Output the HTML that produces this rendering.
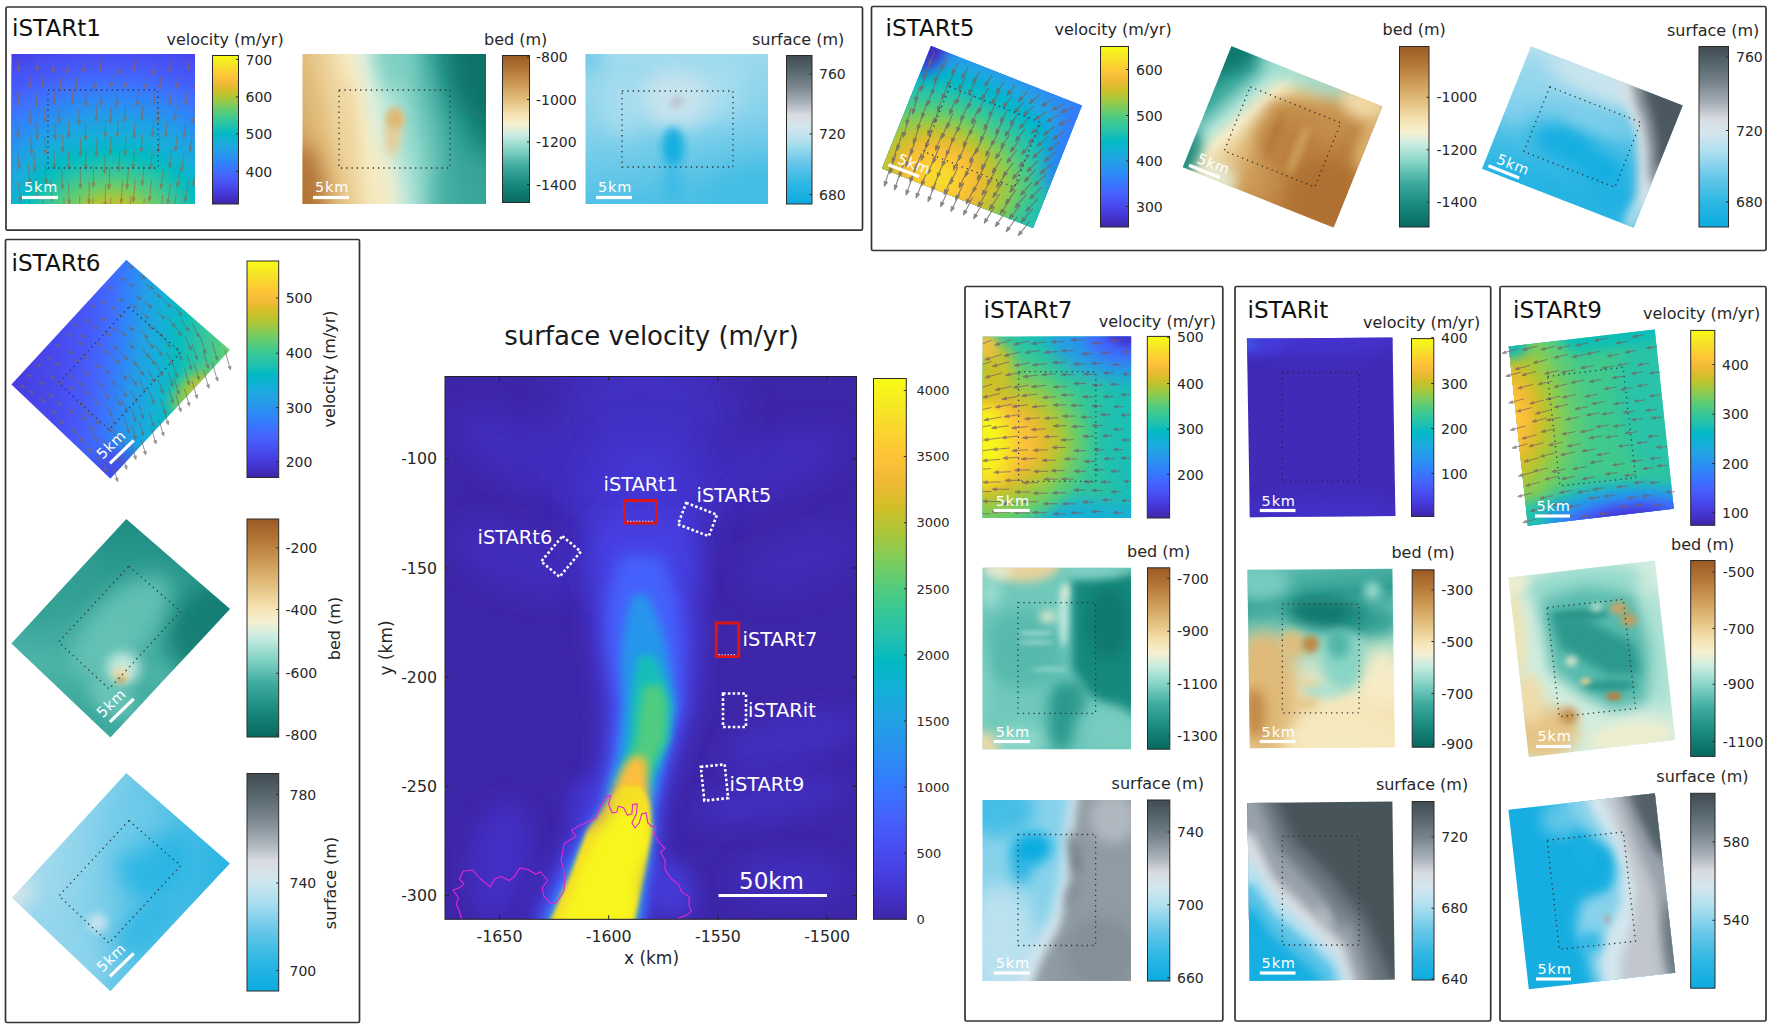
<!DOCTYPE html>
<html><head><meta charset="utf-8"><title>iSTAR survey grids</title>
<style>
html,body{margin:0;padding:0;background:#fff;}
svg{display:block;}
svg text{font-family:"DejaVu Sans","Liberation Sans",sans-serif;}
</style></head><body>
<svg width="1772" height="1029" viewBox="0 0 1772 1029">
<defs>
<linearGradient id="gP" x1="0" y1="1" x2="0" y2="0"><stop offset="0.000" stop-color="#3e26a8"/><stop offset="0.048" stop-color="#4332cb"/><stop offset="0.095" stop-color="#4741e5"/><stop offset="0.143" stop-color="#4852f4"/><stop offset="0.190" stop-color="#4563fd"/><stop offset="0.238" stop-color="#3875fe"/><stop offset="0.286" stop-color="#2e87f7"/><stop offset="0.333" stop-color="#2797eb"/><stop offset="0.381" stop-color="#20a5e3"/><stop offset="0.429" stop-color="#12b1d6"/><stop offset="0.476" stop-color="#02bac3"/><stop offset="0.524" stop-color="#24c1ae"/><stop offset="0.571" stop-color="#37c897"/><stop offset="0.619" stop-color="#57cc7a"/><stop offset="0.667" stop-color="#81cc59"/><stop offset="0.714" stop-color="#abc739"/><stop offset="0.762" stop-color="#d1bf27"/><stop offset="0.810" stop-color="#f0ba36"/><stop offset="0.857" stop-color="#fec338"/><stop offset="0.905" stop-color="#fad62d"/><stop offset="0.952" stop-color="#f5e924"/><stop offset="1.000" stop-color="#f9fb15"/><stop offset="1" stop-color="#f9fb15"/></linearGradient>
<linearGradient id="gB" x1="0" y1="1" x2="0" y2="0"><stop offset="0.000" stop-color="#08685f"/><stop offset="0.120" stop-color="#18897d"/><stop offset="0.250" stop-color="#40aca0"/><stop offset="0.360" stop-color="#84d4c6"/><stop offset="0.460" stop-color="#cbece2"/><stop offset="0.530" stop-color="#f6f0d0"/><stop offset="0.600" stop-color="#f5e1af"/><stop offset="0.700" stop-color="#e2be7d"/><stop offset="0.800" stop-color="#cd9b56"/><stop offset="0.900" stop-color="#b57837"/><stop offset="1.000" stop-color="#9c5a24"/></linearGradient>
<linearGradient id="gS" x1="0" y1="1" x2="0" y2="0"><stop offset="0.000" stop-color="#0cabe0"/><stop offset="0.140" stop-color="#2eb7e4"/><stop offset="0.280" stop-color="#68c7e8"/><stop offset="0.420" stop-color="#b0e0f0"/><stop offset="0.520" stop-color="#d4e6ee"/><stop offset="0.600" stop-color="#d8dbe0"/><stop offset="0.680" stop-color="#aab2ba"/><stop offset="0.800" stop-color="#76838c"/><stop offset="0.900" stop-color="#58666e"/><stop offset="1.000" stop-color="#404c52"/></linearGradient>
<clipPath id="c1"><rect x="0" y="0" width="183.5" height="150.0"/></clipPath>
<filter id="b7" x="-100%" y="-100%" width="300%" height="300%"><feGaussianBlur stdDeviation="7"/></filter>
<clipPath id="c2"><polygon points="11.5,54.0 195.0,54.0 195.0,204.0 11.5,204.0"/></clipPath>
<linearGradient id="t1b" gradientUnits="userSpaceOnUse" x1="0" y1="95" x2="183.5" y2="55"><stop offset="0" stop-color="#d5a966"/><stop offset="0.12" stop-color="#e2be7d"/><stop offset="0.24" stop-color="#efd6a0"/><stop offset="0.34" stop-color="#f6eac2"/><stop offset="0.42" stop-color="#ddeeda"/><stop offset="0.5" stop-color="#b6e5da"/><stop offset="0.6" stop-color="#8bd6c9"/><stop offset="0.7" stop-color="#5fbeb1"/><stop offset="0.8" stop-color="#37a498"/><stop offset="0.92" stop-color="#1b8c80"/><stop offset="1" stop-color="#137e73"/></linearGradient>
<clipPath id="c3"><rect x="0" y="0" width="183.5" height="150.0"/></clipPath>
<filter id="b10" x="-100%" y="-100%" width="300%" height="300%"><feGaussianBlur stdDeviation="10"/></filter>
<filter id="b8" x="-100%" y="-100%" width="300%" height="300%"><feGaussianBlur stdDeviation="8"/></filter>
<filter id="b12" x="-100%" y="-100%" width="300%" height="300%"><feGaussianBlur stdDeviation="12"/></filter>
<filter id="b4" x="-100%" y="-100%" width="300%" height="300%"><feGaussianBlur stdDeviation="4"/></filter>
<filter id="b3" x="-100%" y="-100%" width="300%" height="300%"><feGaussianBlur stdDeviation="3"/></filter>
<linearGradient id="t1s" x1="0" y1="0" x2="0.15" y2="1"><stop offset="0" stop-color="#a6dcef"/><stop offset="0.5" stop-color="#87d2eb"/><stop offset="1" stop-color="#4fc0e6"/></linearGradient>
<clipPath id="c4"><rect x="0" y="0" width="182.5" height="150.0"/></clipPath>
<filter id="b6" x="-100%" y="-100%" width="300%" height="300%"><feGaussianBlur stdDeviation="6"/></filter>
<clipPath id="c5"><rect x="0" y="0" width="162.3" height="131.9"/></clipPath>
<filter id="b9" x="-100%" y="-100%" width="300%" height="300%"><feGaussianBlur stdDeviation="9"/></filter>
<linearGradient id="t5b" gradientUnits="userSpaceOnUse" x1="0" y1="20" x2="162" y2="100"><stop offset="0" stop-color="#18897d"/><stop offset="0.12" stop-color="#46b0a3"/><stop offset="0.22" stop-color="#afe2d7"/><stop offset="0.3" stop-color="#f6ecc7"/><stop offset="0.4" stop-color="#e6c587"/><stop offset="0.55" stop-color="#cf9e5a"/><stop offset="0.8" stop-color="#bc8240"/><stop offset="1" stop-color="#b57837"/></linearGradient>
<clipPath id="c6"><rect x="0" y="0" width="162.5" height="130.5"/></clipPath>
<linearGradient id="t5s" x1="0" y1="0" x2="0.3" y2="1"><stop offset="0" stop-color="#bee2ef"/><stop offset="0.3" stop-color="#91d5ed"/><stop offset="0.6" stop-color="#4fc0e6"/><stop offset="1" stop-color="#29b5e3"/></linearGradient>
<clipPath id="c7"><rect x="0" y="0" width="162.8" height="131.8"/></clipPath>
<filter id="b5" x="-100%" y="-100%" width="300%" height="300%"><feGaussianBlur stdDeviation="5"/></filter>
<linearGradient id="t6v" gradientUnits="userSpaceOnUse" x1="0" y1="170" x2="171.5" y2="47.4"><stop offset="0" stop-color="#463cde"/><stop offset="0.2" stop-color="#484aee"/><stop offset="0.33" stop-color="#4758f8"/><stop offset="0.43" stop-color="#3f6eff"/><stop offset="0.51" stop-color="#2d88f6"/><stop offset="0.57" stop-color="#259ce7"/><stop offset="0.66" stop-color="#15afd9"/><stop offset="0.76" stop-color="#0abdbd"/><stop offset="0.86" stop-color="#2fc5a2"/><stop offset="0.95" stop-color="#50cc80"/><stop offset="1" stop-color="#68cd6b"/></linearGradient>
<clipPath id="c8"><polygon points="126.3,259.8 229.9,350.0 110.4,478.4 11.4,384.4"/></clipPath>
<linearGradient id="t6b" x1="0" y1="0" x2="0.6" y2="1"><stop offset="0" stop-color="#18897d"/><stop offset="0.5" stop-color="#37a498"/><stop offset="0.8" stop-color="#4cb3a7"/><stop offset="1" stop-color="#3da99d"/></linearGradient>
<clipPath id="c9"><polygon points="126.3,518.9 229.9,609.1 110.4,737.5 11.4,643.5"/></clipPath>
<filter id="b2" x="-100%" y="-100%" width="300%" height="300%"><feGaussianBlur stdDeviation="2"/></filter>
<linearGradient id="t6s" x1="0" y1="1" x2="1" y2="0.2"><stop offset="0" stop-color="#bee2ef"/><stop offset="0.4" stop-color="#87d2eb"/><stop offset="0.7" stop-color="#57c2e7"/><stop offset="1" stop-color="#29b5e3"/></linearGradient>
<clipPath id="c10"><polygon points="126.3,773.1 229.9,863.6 110.4,991.2 12.1,897.7"/></clipPath>
<clipPath id="c11"><rect x="0" y="0" width="411.5" height="542.8"/></clipPath>
<filter id="b15" x="-100%" y="-100%" width="300%" height="300%"><feGaussianBlur stdDeviation="15"/></filter>
<filter id="b25" x="-100%" y="-100%" width="300%" height="300%"><feGaussianBlur stdDeviation="25"/></filter>
<filter id="b20" x="-100%" y="-100%" width="300%" height="300%"><feGaussianBlur stdDeviation="20"/></filter>
<clipPath id="c12"><rect x="0" y="0" width="148.4" height="181.6"/></clipPath>
<clipPath id="c13"><polygon points="982.7,336.4 1131.1,336.4 1131.1,518.0 982.7,518.0"/></clipPath>
<clipPath id="c14"><rect x="0" y="0" width="148.4" height="181.4"/></clipPath>
<clipPath id="c15"><rect x="0" y="0" width="148.4" height="181.0"/></clipPath>
<clipPath id="c16"><rect x="0" y="0" width="145.6" height="178.6"/></clipPath>
<linearGradient id="itb" x1="0" y1="0" x2="0.1" y2="1"><stop offset="0" stop-color="#5fbeb1"/><stop offset="0.2" stop-color="#319f93"/><stop offset="0.4" stop-color="#84d4c6"/><stop offset="0.7" stop-color="#f6ecc7"/><stop offset="1" stop-color="#f5e1af"/></linearGradient>
<clipPath id="c17"><rect x="0" y="0" width="145.0" height="178.4"/></clipPath>
<clipPath id="c18"><rect x="0" y="0" width="145.0" height="178.0"/></clipPath>
<clipPath id="c19"><rect x="0" y="0" width="147.0" height="180.2"/></clipPath>
<clipPath id="c20"><rect x="0" y="0" width="147.5" height="180.7"/></clipPath>
<clipPath id="c21"><rect x="0" y="0" width="147.4" height="180.6"/></clipPath>
</defs>
<rect width="1772" height="1029" fill="#fff"/>
<rect x="6.0" y="7.0" width="856.5" height="223.2" fill="none" stroke="#333" stroke-width="1.7" rx="1.5"/>
<text x="12.0" y="35.5" font-size="23.1" fill="#111" text-anchor="start">iSTARt1</text>
<text x="166.5" y="45.0" font-size="16" fill="#272727" text-anchor="start">velocity (m/yr)</text>
<g transform="matrix(1.0000 0.0000 0.0000 1.0000 11.50 54.00)"><g clip-path="url(#c1)">
<rect x="-1" y="-1" width="185.5" height="152.0" fill="#473fe3"/>
<ellipse cx="100.9" cy="168.0" rx="238.6" ry="172.5" fill="#4755f6" opacity="1.00" filter="url(#b7)"/>
<ellipse cx="100.9" cy="168.0" rx="183.5" ry="150.0" fill="#3f6eff" opacity="1.00" filter="url(#b7)"/>
<ellipse cx="100.9" cy="168.0" rx="156.0" ry="132.0" fill="#2d88f6" opacity="1.00" filter="url(#b7)"/>
<ellipse cx="100.9" cy="168.0" rx="132.1" ry="114.0" fill="#249fe6" opacity="1.00" filter="url(#b7)"/>
<ellipse cx="100.9" cy="168.0" rx="113.8" ry="96.0" fill="#15afd9" opacity="1.00" filter="url(#b7)"/>
<ellipse cx="100.9" cy="168.0" rx="97.3" ry="78.0" fill="#04bbc2" opacity="1.00" filter="url(#b7)"/>
<ellipse cx="100.9" cy="168.0" rx="80.7" ry="61.5" fill="#2fc5a2" opacity="1.00" filter="url(#b7)"/>
<ellipse cx="100.9" cy="168.0" rx="62.4" ry="45.0" fill="#60cd72" opacity="1.00" filter="url(#b7)"/>
<ellipse cx="100.9" cy="168.0" rx="40.4" ry="30.0" fill="#b9c431" opacity="1.00" filter="url(#b7)"/>
</g></g>
<path d="M18.9 59.9L18.7 66.9M18.6 71.4L17.3 66.8L20.1 66.9ZM37.4 59.6L37.2 66.5M37.0 71.0L35.8 66.5L38.6 66.5ZM53.4 60.9L53.2 68.0M53.0 72.5L51.8 67.9L54.6 68.0ZM67.5 61.5L67.2 68.7M67.0 73.2L65.8 68.6L68.6 68.7ZM84.0 61.2L83.7 68.4M83.5 72.9L82.3 68.3L85.1 68.4ZM100.9 59.7L100.5 66.7M100.3 71.2L99.1 66.6L101.9 66.8ZM119.5 63.0L119.1 70.3M118.8 74.8L117.7 70.2L120.5 70.4ZM134.5 60.3L134.1 67.3M133.8 71.8L132.7 67.2L135.5 67.4ZM154.0 63.5L153.5 70.8M153.1 75.3L152.1 70.7L154.9 70.9ZM170.4 61.0L169.8 68.1M169.5 72.6L168.4 68.0L171.2 68.2ZM189.3 59.5L188.7 66.4M188.3 70.9L187.3 66.3L190.1 66.5ZM30.2 75.6L30.1 83.7M30.1 88.2L28.7 83.7L31.5 83.7ZM42.9 74.8L42.8 82.9M42.7 87.4L41.4 82.9L44.2 82.9ZM60.5 77.9L60.3 86.4M60.2 90.9L58.9 86.4L61.7 86.5ZM76.5 76.9L76.2 85.4M76.1 89.9L74.8 85.4L77.6 85.4ZM95.7 75.9L95.3 84.5M95.1 89.0L93.9 84.4L96.7 84.5ZM111.9 74.5L111.4 82.9M111.2 87.4L110.0 82.9L112.8 83.0ZM125.8 75.2L125.4 83.6M125.1 88.1L124.0 83.5L126.7 83.7ZM145.9 76.2L145.4 84.6M145.0 89.0L144.0 84.5L146.8 84.6ZM160.6 76.9L159.9 85.2M159.6 89.7L158.6 85.1L161.3 85.3ZM178.1 75.6L177.3 83.8M176.9 88.2L175.9 83.6L178.7 83.9ZM196.6 77.4L195.8 85.6M195.3 90.1L194.4 85.5L197.2 85.8ZM18.4 91.8L18.6 101.2M18.7 105.7L17.2 101.2L20.0 101.1ZM36.7 93.2L36.7 102.7M36.8 107.2L35.3 102.7L38.1 102.7ZM54.5 90.5L54.4 100.1M54.4 104.6L53.0 100.0L55.8 100.1ZM72.5 89.8L72.3 99.4M72.2 103.9L70.9 99.4L73.7 99.5ZM86.1 92.7L85.8 102.7M85.7 107.2L84.4 102.7L87.2 102.7ZM101.3 91.5L100.9 101.4M100.8 105.9L99.5 101.4L102.3 101.5ZM117.4 92.3L116.9 102.3M116.6 106.8L115.5 102.2L118.3 102.4ZM138.1 91.8L137.4 101.6M137.1 106.1L136.0 101.5L138.8 101.7ZM155.4 90.7L154.6 100.2M154.2 104.6L153.2 100.0L156.0 100.3ZM171.1 91.9L170.2 101.4M169.8 105.9L168.8 101.2L171.6 101.5ZM187.1 91.3L186.1 100.6M185.7 105.1L184.7 100.5L187.5 100.8ZM30.1 108.5L30.4 119.2M30.5 123.6L29.0 119.2L31.8 119.1ZM44.7 107.2L44.9 118.0M44.9 122.5L43.5 118.0L46.3 117.9ZM59.1 107.4L59.1 118.4M59.1 122.9L57.7 118.4L60.5 118.4ZM79.0 108.7L78.9 120.1M78.8 124.6L77.5 120.1L80.3 120.2ZM96.7 105.5L96.3 116.8M96.2 121.3L94.9 116.8L97.7 116.9ZM111.0 107.3L110.5 118.7M110.3 123.2L109.1 118.7L111.8 118.8ZM125.6 106.3L125.0 117.6M124.7 122.0L123.6 117.5L126.4 117.6ZM143.1 104.8L142.3 115.6M142.0 120.1L140.9 115.5L143.7 115.7ZM159.2 107.7L158.2 118.5M157.8 123.0L156.8 118.4L159.6 118.7ZM176.3 105.4L175.2 115.8M174.7 120.3L173.8 115.7L176.6 115.9ZM194.4 108.2L193.1 118.7M192.5 123.2L191.7 118.5L194.5 118.9ZM17.5 121.3L18.1 132.8M18.4 137.3L16.7 132.8L19.5 132.7ZM36.8 123.2L37.2 135.1M37.4 139.6L35.8 135.1L38.6 135.0ZM55.0 123.1L55.2 135.3M55.2 139.8L53.8 135.3L56.6 135.3ZM68.7 121.1L68.7 133.4M68.7 137.9L67.3 133.4L70.1 133.4ZM85.8 123.2L85.6 136.1M85.5 140.6L84.2 136.0L87.0 136.1ZM105.8 119.9L105.3 132.6M105.1 137.1L103.9 132.5L106.7 132.6ZM118.1 120.3L117.5 132.9M117.3 137.4L116.1 132.8L118.9 133.0ZM135.1 121.4L134.3 133.8M134.0 138.3L132.9 133.7L135.7 133.9ZM153.8 120.4L152.7 132.4M152.3 136.9L151.3 132.2L154.1 132.5ZM167.2 121.1L166.0 132.9M165.5 137.4L164.6 132.7L167.4 133.0ZM185.9 121.8L184.5 133.4M183.9 137.8L183.1 133.2L185.9 133.6ZM30.7 137.4L31.4 150.2M31.6 154.7L30.0 150.3L32.8 150.1ZM44.9 137.0L45.4 150.1M45.6 154.6L44.0 150.2L46.8 150.1ZM62.5 134.5L62.7 147.8M62.8 152.3L61.3 147.8L64.1 147.8ZM80.4 137.8L80.4 151.8M80.4 156.3L79.0 151.8L81.8 151.8ZM97.0 137.8L96.6 152.1M96.5 156.6L95.2 152.1L98.0 152.2ZM111.0 136.0L110.4 150.2M110.2 154.7L109.0 150.1L111.8 150.2ZM126.1 137.1L125.2 151.1M125.0 155.6L123.8 151.0L126.6 151.2ZM142.5 134.6L141.5 147.9M141.1 152.4L140.1 147.8L142.9 148.0ZM160.0 135.0L158.7 148.0M158.2 152.4L157.3 147.8L160.1 148.1ZM177.4 134.5L175.9 147.1M175.3 151.6L174.5 146.9L177.3 147.3ZM192.2 134.9L190.5 147.4M189.8 151.9L189.1 147.2L191.8 147.6ZM17.6 150.9L18.8 164.6M19.2 169.0L17.4 164.7L20.2 164.4ZM33.9 153.2L34.8 167.3M35.1 171.8L33.4 167.4L36.2 167.2ZM53.8 149.9L54.4 164.3M54.5 168.8L53.0 164.3L55.7 164.2ZM68.5 150.8L68.8 165.7M68.9 170.2L67.4 165.7L70.2 165.7ZM85.8 149.8L85.7 165.1M85.7 169.6L84.3 165.0L87.1 165.1ZM105.2 153.7L104.7 169.5M104.5 174.0L103.3 169.5L106.1 169.6ZM119.7 151.4L118.9 166.9M118.7 171.3L117.5 166.8L120.3 166.9ZM134.3 149.7L133.2 164.6M132.9 169.1L131.8 164.5L134.6 164.7ZM152.4 150.4L151.0 164.9M150.5 169.3L149.6 164.7L152.4 165.0ZM171.8 150.0L170.0 163.9M169.5 168.3L168.6 163.7L171.4 164.1ZM184.0 153.5L182.0 167.5M181.3 171.9L180.6 167.3L183.4 167.7ZM28.3 164.9L29.6 179.8M30.0 184.3L28.2 179.9L31.0 179.7ZM45.1 164.4L46.0 179.6M46.3 184.1L44.6 179.7L47.4 179.5ZM61.7 168.7L62.3 184.8M62.5 189.3L60.9 184.9L63.7 184.8ZM80.2 167.4L80.4 184.1M80.4 188.6L79.0 184.1L81.8 184.1ZM93.6 165.9L93.4 182.8M93.3 187.3L92.0 182.8L94.8 182.8ZM109.8 167.7L109.1 184.8M108.9 189.3L107.7 184.8L110.5 184.9ZM128.5 167.8L127.3 184.4M127.0 188.9L125.9 184.3L128.7 184.5ZM144.0 165.3L142.5 181.2M142.1 185.7L141.2 181.0L143.9 181.3ZM163.4 168.7L161.4 184.2M160.8 188.7L160.0 184.1L162.8 184.4ZM180.3 167.9L178.0 183.0M177.3 187.4L176.6 182.7L179.4 183.2ZM196.8 167.6L194.1 182.4M193.3 186.8L192.7 182.2L195.5 182.6ZM18.3 181.6L20.2 197.5M20.7 202.0L18.8 197.6L21.6 197.3ZM35.7 179.4L37.1 195.5M37.5 200.0L35.7 195.6L38.5 195.4ZM50.6 180.5L51.6 197.2M51.9 201.7L50.2 197.3L53.0 197.1ZM68.6 182.4L69.1 200.0M69.3 204.5L67.7 200.0L70.5 199.9ZM89.1 181.3L89.0 199.5M89.0 204.0L87.6 199.5L90.4 199.5ZM105.7 183.7L105.1 202.3M105.0 206.8L103.7 202.3L106.5 202.3ZM122.4 180.9L121.4 198.9M121.1 203.4L120.0 198.9L122.8 199.0ZM135.1 180.3L133.6 197.8M133.3 202.3L132.2 197.7L135.0 197.9ZM151.6 180.2L149.8 197.0M149.3 201.5L148.4 196.9L151.2 197.2ZM170.7 183.3L168.3 199.8M167.6 204.2L166.9 199.6L169.6 200.0ZM188.5 181.4L185.7 197.3M184.9 201.8L184.3 197.1L187.1 197.6ZM29.0 197.8L31.0 215.2M31.5 219.6L29.6 215.3L32.4 215.0ZM42.6 197.2L44.1 214.9M44.5 219.4L42.7 215.1L45.5 214.8ZM63.8 197.8L64.7 216.5M64.9 221.0L63.3 216.5L66.1 216.4ZM79.6 196.4L80.0 215.7M80.1 220.2L78.6 215.7L81.4 215.7ZM93.1 197.8L93.0 217.6M93.0 222.1L91.6 217.6L94.4 217.6ZM110.7 197.9L109.9 217.7M109.7 222.2L108.5 217.7L111.3 217.8ZM130.9 196.0L129.4 215.1M129.0 219.6L128.0 215.0L130.8 215.2ZM144.4 198.5L142.5 217.2M142.0 221.7L141.1 217.1L143.9 217.4ZM162.9 195.0L160.4 212.6M159.8 217.1L159.0 212.4L161.8 212.8ZM176.3 194.9L173.4 212.1M172.7 216.5L172.1 211.9L174.8 212.3ZM197.2 197.9L193.7 214.8M192.8 219.2L192.3 214.6L195.1 215.1Z" stroke="#9c6040" fill="#9c6040" stroke-width="1.0" opacity="0.62" stroke-linejoin="round" clip-path="url(#c2)"/>
<polygon points="48.0,90.0 158.0,90.0 158.0,168.0 48.0,168.0" fill="none" stroke="#26305e" stroke-width="1.3" stroke-dasharray="1.3 4"/>
<g>
<rect x="22.0" y="195.9" width="36.0" height="3.2" fill="#fff"/>
<text x="41.0" y="192.0" font-size="14.5" fill="#fff" text-anchor="middle" letter-spacing="0.8">5km</text>
</g>
<rect x="212.5" y="55.5" width="26.0" height="148.5" fill="url(#gP)" stroke="#2a2a2a" stroke-width="1"/>
<line x1="236.0" y1="59.4" x2="238.5" y2="59.4" stroke="#2a2a2a" stroke-width="1"/>
<text x="245.5" y="64.5" font-size="14" fill="#272727" text-anchor="start">700</text>
<line x1="236.0" y1="97.0" x2="238.5" y2="97.0" stroke="#2a2a2a" stroke-width="1"/>
<text x="245.5" y="102.1" font-size="14" fill="#272727" text-anchor="start">600</text>
<line x1="236.0" y1="134.0" x2="238.5" y2="134.0" stroke="#2a2a2a" stroke-width="1"/>
<text x="245.5" y="139.1" font-size="14" fill="#272727" text-anchor="start">500</text>
<line x1="236.0" y1="171.5" x2="238.5" y2="171.5" stroke="#2a2a2a" stroke-width="1"/>
<text x="245.5" y="176.6" font-size="14" fill="#272727" text-anchor="start">400</text>
<text x="484.0" y="45.0" font-size="16" fill="#272727" text-anchor="start">bed (m)</text>
<g transform="matrix(1.0000 0.0000 0.0000 1.0000 302.50 54.00)"><g clip-path="url(#c3)">
<rect x="-1" y="-1" width="185.5" height="152.0" fill="url(#t1b)"/>
<ellipse cx="0.0" cy="150.0" rx="22.0" ry="60.0" fill="#ae6f31" opacity="0.90" filter="url(#b10)"/>
<ellipse cx="44.0" cy="67.5" rx="9.2" ry="42.0" fill="#edd39b" opacity="0.70" filter="url(#b7)"/>
<ellipse cx="91.8" cy="0.0" rx="18.4" ry="37.5" fill="#78cdbf" opacity="0.70" filter="url(#b8)"/>
<ellipse cx="183.5" cy="0.0" rx="40.4" ry="67.5" fill="#0c7066" opacity="0.80" filter="url(#b12)"/>
<ellipse cx="174.3" cy="150.0" rx="45.9" ry="52.5" fill="#3da99d" opacity="0.80" filter="url(#b12)"/>
<ellipse cx="77.1" cy="135.0" rx="14.7" ry="37.5" fill="#f6eac2" opacity="0.70" filter="url(#b8)"/>
<ellipse cx="90.8" cy="78.0" rx="7.7" ry="24.0" fill="#eacc91" opacity="0.95" filter="url(#b4)" transform="rotate(5 90.8 78.0)"/>
<ellipse cx="92.7" cy="64.5" rx="8.8" ry="10.5" fill="#deb775" opacity="0.95" filter="url(#b3)"/>
</g></g>
<polygon points="339.0,90.0 450.0,90.0 450.0,168.0 339.0,168.0" fill="none" stroke="#333" stroke-width="1.3" stroke-dasharray="1.3 4"/>
<g>
<rect x="313.0" y="195.9" width="36.0" height="3.2" fill="#fff"/>
<text x="332.0" y="192.0" font-size="14.5" fill="#fff" text-anchor="middle" letter-spacing="0.8">5km</text>
</g>
<rect x="502.5" y="55.5" width="27.0" height="147.0" fill="url(#gB)" stroke="#2a2a2a" stroke-width="1"/>
<line x1="527.0" y1="57.0" x2="529.5" y2="57.0" stroke="#2a2a2a" stroke-width="1"/>
<text x="536.0" y="62.1" font-size="14" fill="#272727" text-anchor="start">-800</text>
<line x1="527.0" y1="99.5" x2="529.5" y2="99.5" stroke="#2a2a2a" stroke-width="1"/>
<text x="536.0" y="104.6" font-size="14" fill="#272727" text-anchor="start">-1000</text>
<line x1="527.0" y1="142.0" x2="529.5" y2="142.0" stroke="#2a2a2a" stroke-width="1"/>
<text x="536.0" y="147.1" font-size="14" fill="#272727" text-anchor="start">-1200</text>
<line x1="527.0" y1="184.5" x2="529.5" y2="184.5" stroke="#2a2a2a" stroke-width="1"/>
<text x="536.0" y="189.6" font-size="14" fill="#272727" text-anchor="start">-1400</text>
<text x="752.0" y="45.0" font-size="16" fill="#272727" text-anchor="start">surface (m)</text>
<g transform="matrix(1.0000 0.0000 0.0000 1.0000 585.50 54.00)"><g clip-path="url(#c4)">
<rect x="-1" y="-1" width="184.5" height="152.0" fill="url(#t1s)"/>
<ellipse cx="91.2" cy="45.0" rx="40.1" ry="30.0" fill="#cde5ee" opacity="0.90" filter="url(#b10)"/>
<ellipse cx="36.5" cy="52.5" rx="21.9" ry="30.0" fill="#b0e0f0" opacity="0.70" filter="url(#b10)"/>
<ellipse cx="136.9" cy="37.5" rx="21.9" ry="30.0" fill="#b0e0f0" opacity="0.60" filter="url(#b10)"/>
<ellipse cx="91.2" cy="48.0" rx="7.3" ry="4.5" fill="#b6bcc4" opacity="0.90" filter="url(#b3)" transform="rotate(-25 91.2 48.0)"/>
<ellipse cx="87.6" cy="93.0" rx="10.9" ry="19.5" fill="#13aee1" opacity="1.00" filter="url(#b4)"/>
<ellipse cx="87.6" cy="127.5" rx="9.1" ry="18.0" fill="#32b8e4" opacity="0.70" filter="url(#b6)"/>
<ellipse cx="173.4" cy="150.0" rx="54.8" ry="45.0" fill="#3fbce5" opacity="0.70" filter="url(#b12)"/>
<ellipse cx="0.0" cy="0.0" rx="18.2" ry="22.5" fill="#5cc4e7" opacity="0.60" filter="url(#b8)"/>
</g></g>
<polygon points="622.0,91.0 733.0,91.0 733.0,167.0 622.0,167.0" fill="none" stroke="#333" stroke-width="1.3" stroke-dasharray="1.3 4"/>
<g>
<rect x="596.0" y="195.9" width="36.0" height="3.2" fill="#fff"/>
<text x="615.0" y="192.0" font-size="14.5" fill="#fff" text-anchor="middle" letter-spacing="0.8">5km</text>
</g>
<rect x="786.5" y="55.5" width="25.5" height="148.5" fill="url(#gS)" stroke="#2a2a2a" stroke-width="1"/>
<line x1="809.5" y1="74.0" x2="812.0" y2="74.0" stroke="#2a2a2a" stroke-width="1"/>
<text x="819.0" y="79.1" font-size="14" fill="#272727" text-anchor="start">760</text>
<line x1="809.5" y1="134.0" x2="812.0" y2="134.0" stroke="#2a2a2a" stroke-width="1"/>
<text x="819.0" y="139.1" font-size="14" fill="#272727" text-anchor="start">720</text>
<line x1="809.5" y1="194.5" x2="812.0" y2="194.5" stroke="#2a2a2a" stroke-width="1"/>
<text x="819.0" y="199.6" font-size="14" fill="#272727" text-anchor="start">680</text>
<rect x="871.5" y="6.5" width="894.5" height="244.0" fill="none" stroke="#333" stroke-width="1.7" rx="1.5"/>
<text x="885.5" y="36.0" font-size="23.1" fill="#111" text-anchor="start">iSTARt5</text>
<text x="1054.5" y="35.0" font-size="16" fill="#272727" text-anchor="start">velocity (m/yr)</text>
<g transform="matrix(0.9304 0.3666 -0.3714 0.9285 931.00 46.00)"><g clip-path="url(#c5)">
<rect x="-1" y="-1" width="164.3" height="133.9" fill="#3876fe"/>
<ellipse cx="56.8" cy="118.7" rx="186.6" ry="145.1" fill="#2d8cf3" opacity="1.00" filter="url(#b6)"/>
<ellipse cx="56.8" cy="118.7" rx="159.1" ry="121.4" fill="#20a4e3" opacity="1.00" filter="url(#b6)"/>
<ellipse cx="56.8" cy="118.7" rx="138.0" ry="105.5" fill="#01b8ca" opacity="1.00" filter="url(#b6)"/>
<ellipse cx="56.8" cy="118.7" rx="116.9" ry="89.7" fill="#27c2ac" opacity="1.00" filter="url(#b6)"/>
<ellipse cx="56.8" cy="118.7" rx="97.4" ry="75.2" fill="#48cb86" opacity="1.00" filter="url(#b6)"/>
<ellipse cx="56.8" cy="118.7" rx="81.1" ry="62.0" fill="#84cc56" opacity="1.00" filter="url(#b6)"/>
<ellipse cx="56.8" cy="118.7" rx="64.9" ry="50.1" fill="#c1c32d" opacity="1.00" filter="url(#b6)"/>
<ellipse cx="56.8" cy="118.7" rx="48.7" ry="38.3" fill="#f0ba36" opacity="1.00" filter="url(#b6)"/>
<ellipse cx="56.8" cy="118.7" rx="32.5" ry="26.4" fill="#fec835" opacity="1.00" filter="url(#b6)"/>
<ellipse cx="56.8" cy="118.7" rx="16.2" ry="13.2" fill="#f7dc2a" opacity="1.00" filter="url(#b6)"/>
<ellipse cx="0.0" cy="0.0" rx="16.2" ry="29.0" fill="#4536d3" opacity="0.95" filter="url(#b7)"/>
<ellipse cx="3.2" cy="0.0" rx="8.1" ry="13.2" fill="#3f29b0" opacity="0.80" filter="url(#b4)"/>
<ellipse cx="168.8" cy="39.6" rx="19.5" ry="52.8" fill="#3876fe" opacity="0.90" filter="url(#b9)"/>
<ellipse cx="162.3" cy="131.9" rx="19.5" ry="26.4" fill="#21c1b0" opacity="0.70" filter="url(#b8)"/>
</g></g>
<path d="M934.4 52.8L930.7 60.8M928.8 64.9L929.2 60.2L932.1 61.5ZM947.1 57.6L943.2 65.5M941.2 69.5L941.7 64.8L944.6 66.2ZM958.1 62.7L953.9 70.6M951.8 74.5L952.5 69.8L955.3 71.3ZM968.1 67.1L963.8 74.8M961.6 78.7L962.4 74.0L965.2 75.6ZM979.7 71.5L975.2 79.1M972.9 82.9L973.8 78.2L976.6 79.9ZM991.8 75.2L987.1 82.6M984.7 86.5L985.7 81.8L988.4 83.5ZM1003.7 82.0L998.8 89.4M996.3 93.1L997.4 88.5L1000.1 90.3ZM1015.0 84.8L1009.8 91.8M1007.1 95.4L1008.5 90.9L1011.1 92.8ZM1027.4 91.7L1021.3 98.1M1018.2 101.4L1020.2 97.0L1022.5 99.2ZM1039.5 94.9L1032.8 100.6M1029.3 103.5L1031.7 99.3L1033.8 101.8ZM1052.6 99.1L1045.3 103.9M1041.6 106.3L1044.4 102.5L1046.2 105.2ZM1063.6 104.1L1055.9 108.1M1051.9 110.2L1055.1 106.7L1056.6 109.5ZM1073.3 107.4L1065.2 110.7M1061.0 112.4L1064.6 109.2L1065.8 112.2ZM929.2 65.5L925.2 74.4M923.3 78.5L923.7 73.7L926.6 75.1ZM940.7 69.4L936.4 78.1M934.4 82.1L935.0 77.4L937.9 78.8ZM953.9 74.0L949.4 82.5M947.3 86.5L948.0 81.7L950.8 83.2ZM965.5 77.7L960.9 86.0M958.7 89.9L959.5 85.2L962.3 86.8ZM975.5 82.1L970.7 90.2M968.4 94.1L969.3 89.4L972.1 91.1ZM988.8 87.9L983.7 95.9M981.3 99.7L982.4 95.1L985.1 96.8ZM999.2 92.4L993.9 100.3M991.4 104.1L992.5 99.4L995.2 101.2ZM1011.5 96.5L1005.8 104.0M1003.1 107.6L1004.5 103.0L1007.1 105.0ZM1023.7 102.4L1017.3 109.3M1014.2 112.6L1016.1 108.2L1018.4 110.4ZM1033.8 106.1L1026.8 112.3M1023.5 115.3L1025.8 111.1L1027.9 113.5ZM1046.0 111.7L1038.4 117.2M1034.7 119.8L1037.4 115.9L1039.3 118.5ZM1058.8 115.1L1050.7 119.6M1046.8 121.8L1049.9 118.2L1051.5 121.0ZM1071.3 119.6L1062.9 123.1M1058.7 124.9L1062.2 121.7L1063.5 124.6ZM925.2 76.7L922.1 86.8M920.8 91.1L920.6 86.3L923.7 87.2ZM936.2 80.3L933.0 90.2M931.6 94.5L931.5 89.7L934.5 90.7ZM947.3 85.1L943.8 95.0M942.3 99.2L942.3 94.4L945.3 95.5ZM961.2 90.4L957.5 100.0M955.8 104.2L956.0 99.4L958.9 100.6ZM973.4 94.4L969.4 103.8M967.7 108.0L968.0 103.2L970.9 104.5ZM984.2 99.5L980.0 108.8M978.1 112.9L978.5 108.1L981.5 109.4ZM995.6 103.6L991.2 112.7M989.2 116.7L989.8 112.0L992.6 113.4ZM1007.6 109.7L1002.6 118.5M1000.4 122.4L1001.2 117.7L1004.0 119.3ZM1018.4 113.1L1012.7 121.4M1010.2 125.1L1011.4 120.5L1014.0 122.3ZM1028.7 117.3L1022.4 125.0M1019.6 128.5L1021.2 124.0L1023.6 126.0ZM1041.8 123.3L1034.7 130.3M1031.5 133.5L1033.6 129.2L1035.9 131.4ZM1054.6 126.3L1047.0 132.5M1043.5 135.3L1046.0 131.2L1048.0 133.7ZM1064.5 131.3L1056.5 136.8M1052.7 139.4L1055.6 135.5L1057.4 138.2ZM919.8 86.6L916.6 97.5M915.3 101.8L915.0 97.0L918.1 97.9ZM932.2 90.5L928.7 101.1M927.3 105.4L927.2 100.6L930.2 101.6ZM942.9 96.6L939.1 107.1M937.6 111.3L937.6 106.6L940.6 107.6ZM955.2 99.9L951.2 110.2M949.6 114.4L949.7 109.6L952.7 110.8ZM967.0 106.4L962.7 116.5M960.9 120.7L961.2 115.9L964.2 117.1ZM978.1 109.5L973.6 119.4M971.7 123.5L972.1 118.8L975.1 120.1ZM990.7 115.7L985.9 125.5M984.0 129.5L984.5 124.8L987.4 126.2ZM1003.1 120.6L997.9 130.0M995.7 133.9L996.5 129.2L999.3 130.7ZM1013.6 123.4L1007.7 132.3M1005.2 136.0L1006.4 131.4L1009.0 133.1ZM1025.0 129.2L1018.4 137.5M1015.6 141.0L1017.1 136.5L1019.6 138.5ZM1039.1 132.7L1031.8 140.1M1028.7 143.3L1030.7 139.0L1033.0 141.3ZM1048.3 136.6L1040.5 143.4M1037.2 146.4L1039.5 142.2L1041.6 144.6ZM1059.8 141.8L1051.6 147.9M1047.9 150.6L1050.6 146.7L1052.5 149.2ZM917.3 97.9L913.8 109.5M912.5 113.8L912.2 109.0L915.3 110.0ZM927.0 102.2L923.2 113.6M921.8 117.9L921.7 113.1L924.7 114.1ZM939.5 107.6L935.5 118.8M934.0 123.0L934.0 118.2L937.0 119.3ZM952.8 113.1L948.5 124.1M946.8 128.3L947.0 123.5L949.9 124.7ZM963.2 117.0L958.6 127.8M956.8 131.9L957.1 127.2L960.1 128.4ZM975.8 120.4L971.0 130.9M969.2 134.9L969.6 130.2L972.5 131.5ZM987.4 127.0L982.3 137.3M980.3 141.4L980.9 136.6L983.8 138.0ZM998.9 131.6L993.4 141.5M991.2 145.5L992.0 140.8L994.8 142.3ZM1009.5 134.6L1003.3 144.0M1000.9 147.8L1002.0 143.2L1004.7 144.9ZM1020.0 139.5L1013.2 148.3M1010.5 151.9L1011.9 147.3L1014.5 149.3ZM1032.0 142.6L1024.7 150.7M1021.7 154.1L1023.5 149.7L1025.9 151.8ZM1044.0 147.6L1036.1 155.0M1032.8 158.1L1035.0 153.8L1037.2 156.2ZM1056.1 152.0L1047.7 158.7M1044.2 161.5L1046.7 157.4L1048.7 159.9ZM911.1 108.1L907.5 120.4M906.2 124.8L905.9 120.0L909.0 120.9ZM922.9 113.3L918.9 125.5M917.5 129.7L917.4 125.0L920.4 126.0ZM933.7 119.0L929.5 131.0M927.9 135.3L927.9 130.5L931.0 131.6ZM947.8 122.5L943.3 134.1M941.6 138.3L941.8 133.6L944.8 134.7ZM958.2 127.2L953.4 138.6M951.6 142.7L951.9 138.0L954.9 139.2ZM970.3 131.3L965.3 142.4M963.4 146.5L963.9 141.8L966.8 143.1ZM982.6 138.6L977.2 149.5M975.2 153.6L975.8 148.8L978.7 150.2ZM993.5 141.5L987.8 152.0M985.7 156.0L986.4 151.3L989.2 152.8ZM1004.4 144.7L998.1 154.7M995.7 158.5L996.7 153.8L999.4 155.5ZM1016.6 150.0L1009.6 159.3M1006.9 162.9L1008.3 158.4L1010.9 160.3ZM1029.8 154.9L1022.2 163.5M1019.2 166.8L1021.0 162.4L1023.4 164.5ZM1038.2 160.4L1030.1 168.6M1027.0 171.8L1029.0 167.5L1031.3 169.7ZM1052.1 163.6L1043.6 170.9M1040.1 173.8L1042.5 169.7L1044.6 172.1ZM908.4 119.6L904.5 132.6M903.2 136.9L903.0 132.2L906.0 133.1ZM919.1 126.5L914.8 139.4M913.4 143.7L913.3 138.9L916.3 139.9ZM932.0 130.7L927.4 143.4M925.9 147.6L925.9 142.8L928.9 143.9ZM942.1 133.8L937.3 146.1M935.7 150.3L935.8 145.5L938.8 146.7ZM953.0 139.3L948.0 151.4M946.2 155.5L946.5 150.7L949.4 152.0ZM965.8 144.3L960.4 156.1M958.5 160.2L958.9 155.4L961.8 156.7ZM977.3 147.3L971.7 158.7M969.8 162.7L970.3 158.0L973.2 159.4ZM989.6 154.3L983.6 165.4M981.4 169.3L982.2 164.6L985.0 166.1ZM1001.5 158.5L994.9 169.0M992.4 172.8L993.5 168.1L996.2 169.8ZM1013.1 162.8L1005.9 172.7M1003.2 176.4L1004.6 171.8L1007.2 173.7ZM1023.2 166.2L1015.5 175.5M1012.6 179.0L1014.2 174.5L1016.7 176.5ZM1035.6 169.7L1027.5 178.3M1024.4 181.6L1026.3 177.2L1028.6 179.4ZM1046.0 174.5L1037.4 182.5M1034.1 185.6L1036.3 181.4L1038.5 183.7ZM902.5 132.0L898.3 146.0M897.0 150.3L896.8 145.5L899.8 146.4ZM916.4 136.8L911.9 150.4M910.5 154.7L910.4 149.9L913.4 150.9ZM927.5 142.7L922.6 156.0M921.1 160.3L921.1 155.5L924.1 156.6ZM939.8 145.8L934.6 158.7M933.0 162.9L933.1 158.1L936.1 159.3ZM949.3 149.1L943.9 161.8M942.2 165.9L942.5 161.2L945.4 162.4ZM960.8 153.6L955.3 166.0M953.4 170.1L953.8 165.3L956.7 166.6ZM973.1 160.4L967.2 172.5M965.2 176.5L965.7 171.8L968.6 173.2ZM985.8 164.2L979.5 175.8M977.3 179.8L978.1 175.0L980.9 176.6ZM996.5 169.3L989.6 180.5M987.3 184.3L988.3 179.6L991.0 181.3ZM1006.5 172.9L999.2 183.5M996.7 187.2L997.9 182.6L1000.5 184.4ZM1020.5 178.8L1012.6 188.7M1009.8 192.2L1011.4 187.7L1013.8 189.7ZM1031.9 182.4L1023.6 191.7M1020.6 195.0L1022.4 190.6L1024.8 192.7ZM1041.5 187.1L1032.9 195.8M1029.7 199.0L1031.7 194.7L1034.0 196.9ZM898.1 143.5L893.7 158.2M892.4 162.6L892.2 157.8L895.2 158.7ZM912.1 147.8L907.3 162.1M905.9 166.4L905.8 161.6L908.8 162.6ZM921.4 153.1L916.4 167.2M914.8 171.4L914.9 166.6L917.9 167.7ZM934.8 156.1L929.4 169.8M927.8 173.9L927.9 169.2L930.9 170.3ZM944.6 160.0L939.0 173.3M937.3 177.4L937.5 172.7L940.5 173.9ZM957.9 167.1L952.0 180.1M950.1 184.2L950.5 179.4L953.4 180.7ZM967.2 170.8L961.1 183.5M959.1 187.6L959.6 182.8L962.5 184.2ZM981.5 175.9L975.0 188.1M972.8 192.1L973.6 187.4L976.4 188.9ZM991.4 179.5L984.4 191.2M982.0 195.1L983.0 190.4L985.7 192.0ZM1002.8 182.5L995.4 193.6M992.9 197.4L994.1 192.7L996.7 194.5ZM1016.4 189.6L1008.4 200.1M1005.6 203.7L1007.1 199.2L1009.6 201.1ZM1026.4 194.4L1018.0 204.4M1015.1 207.9L1016.8 203.4L1019.2 205.4ZM1037.8 198.7L1029.1 208.1M1026.0 211.4L1027.9 207.0L1030.2 209.2ZM895.8 153.8L891.1 169.2M889.8 173.5L889.6 168.7L892.6 169.6ZM905.6 157.9L900.6 173.0M899.2 177.2L899.1 172.5L902.1 173.5ZM916.9 163.1L911.5 177.9M910.0 182.2L910.0 177.4L913.1 178.5ZM928.7 167.3L923.1 181.7M921.4 185.9L921.6 181.1L924.6 182.3ZM939.4 173.0L933.5 187.0M931.8 191.2L932.0 186.4L935.0 187.7ZM952.2 176.7L946.0 190.3M944.1 194.4L944.5 189.7L947.4 191.0ZM964.0 182.6L957.6 195.9M955.6 200.0L956.1 195.2L959.0 196.6ZM975.1 187.1L968.4 199.9M966.3 203.9L966.9 199.2L969.8 200.7ZM987.4 190.8L980.2 203.1M977.9 206.9L978.8 202.2L981.5 203.9ZM999.6 194.1L991.9 205.8M989.5 209.6L990.6 204.9L993.3 206.7ZM1010.8 199.0L1002.8 210.1M1000.1 213.8L1001.5 209.2L1004.1 211.1ZM1020.5 204.6L1012.1 215.3M1009.4 218.9L1010.9 214.3L1013.4 216.3ZM1032.9 208.6L1024.2 218.6M1021.3 222.1L1023.0 217.6L1025.5 219.7ZM890.7 165.6L885.7 181.9M884.4 186.2L884.2 181.4L887.3 182.3ZM901.1 169.6L895.9 185.5M894.5 189.8L894.4 185.0L897.4 186.0ZM913.2 175.1L907.6 190.6M906.0 194.9L906.1 190.1L909.1 191.2ZM923.6 178.6L917.8 193.7M916.1 197.9L916.3 193.2L919.3 194.3ZM936.0 182.7L929.8 197.3M928.0 201.5L928.3 196.7L931.3 197.9ZM948.9 188.4L942.4 202.7M940.6 206.7L941.0 202.0L943.9 203.3ZM959.7 193.4L952.9 207.2M950.9 211.3L951.5 206.5L954.3 207.9ZM972.6 197.6L965.6 210.9M963.5 214.9L964.2 210.2L967.0 211.7ZM983.3 202.0L975.9 214.8M973.6 218.7L974.5 214.0L977.3 215.6ZM994.4 206.9L986.7 219.3M984.3 223.1L985.3 218.4L988.0 220.1ZM1006.0 211.0L997.9 222.8M995.4 226.6L996.6 221.9L999.3 223.8ZM1017.3 216.6L1009.0 228.0M1006.3 231.6L1007.7 227.0L1010.2 228.9ZM1029.7 221.3L1021.0 232.1M1018.2 235.6L1019.8 231.1L1022.3 233.1Z" stroke="#6f6668" fill="#6f6668" stroke-width="1.1" opacity="0.8" stroke-linejoin="round"/>
<polygon points="949.7,86.7 1040.3,122.4 1014.3,187.3 923.7,151.6" fill="none" stroke="#26305e" stroke-width="1.3" stroke-dasharray="1.3 4"/>
<g transform="translate(896.5 163.0) rotate(20.5)"><text font-size="14.5" fill="#fff" letter-spacing="0.8">5km</text><rect x="-7.0" y="3.0" width="33.0" height="3.2" fill="#fff"/></g>
<rect x="1100.5" y="46.5" width="28.0" height="180.5" fill="url(#gP)" stroke="#2a2a2a" stroke-width="1"/>
<line x1="1126.0" y1="69.5" x2="1128.5" y2="69.5" stroke="#2a2a2a" stroke-width="1"/>
<text x="1136.0" y="74.6" font-size="14" fill="#272727" text-anchor="start">600</text>
<line x1="1126.0" y1="115.5" x2="1128.5" y2="115.5" stroke="#2a2a2a" stroke-width="1"/>
<text x="1136.0" y="120.6" font-size="14" fill="#272727" text-anchor="start">500</text>
<line x1="1126.0" y1="161.0" x2="1128.5" y2="161.0" stroke="#2a2a2a" stroke-width="1"/>
<text x="1136.0" y="166.1" font-size="14" fill="#272727" text-anchor="start">400</text>
<line x1="1126.0" y1="206.5" x2="1128.5" y2="206.5" stroke="#2a2a2a" stroke-width="1"/>
<text x="1136.0" y="211.6" font-size="14" fill="#272727" text-anchor="start">300</text>
<text x="1382.5" y="35.0" font-size="16" fill="#272727" text-anchor="start">bed (m)</text>
<g transform="matrix(0.9288 0.3705 -0.3740 0.9274 1231.50 46.30)"><g clip-path="url(#c6)">
<rect x="-1" y="-1" width="164.5" height="132.5" fill="url(#t5b)"/>
<ellipse cx="0.0" cy="0.0" rx="26.0" ry="26.1" fill="#0f766c" opacity="0.80" filter="url(#b8)"/>
<ellipse cx="0.0" cy="130.5" rx="13.0" ry="39.1" fill="#158478" opacity="0.90" filter="url(#b6)"/>
<ellipse cx="81.2" cy="0.0" rx="52.0" ry="13.0" fill="#a0ded1" opacity="0.90" filter="url(#b7)"/>
<ellipse cx="146.2" cy="5.2" rx="26.0" ry="15.7" fill="#f5e1af" opacity="0.90" filter="url(#b7)"/>
<ellipse cx="162.5" cy="39.1" rx="9.7" ry="32.6" fill="#e2be7d" opacity="0.80" filter="url(#b6)"/>
<ellipse cx="35.7" cy="130.5" rx="21.1" ry="18.3" fill="#e4eed8" opacity="0.90" filter="url(#b7)"/>
<ellipse cx="89.4" cy="65.2" rx="35.7" ry="36.5" fill="#ba7f3d" opacity="0.90" filter="url(#b9)"/>
<ellipse cx="97.5" cy="41.8" rx="40.6" ry="13.0" fill="#c38d4a" opacity="0.70" filter="url(#b6)"/>
<ellipse cx="138.1" cy="104.4" rx="35.7" ry="39.1" fill="#ae6f31" opacity="0.90" filter="url(#b9)"/>
<ellipse cx="100.7" cy="71.8" rx="4.9" ry="26.1" fill="#dab06d" opacity="0.60" filter="url(#b3)"/>
<ellipse cx="73.1" cy="65.2" rx="3.2" ry="23.5" fill="#a8692e" opacity="0.50" filter="url(#b3)"/>
</g></g>
<polygon points="1250.2,86.8 1340.8,122.9 1314.9,187.0 1224.3,150.9" fill="none" stroke="#333" stroke-width="1.3" stroke-dasharray="1.3 4"/>
<g transform="translate(1196.0 162.5) rotate(21.7)"><text font-size="14.5" fill="#fff" letter-spacing="0.8">5km</text><rect x="-5.5" y="3.5" width="33.0" height="3.2" fill="#fff"/></g>
<rect x="1399.5" y="46.5" width="29.5" height="180.5" fill="url(#gB)" stroke="#2a2a2a" stroke-width="1"/>
<line x1="1426.5" y1="97.3" x2="1429.0" y2="97.3" stroke="#2a2a2a" stroke-width="1"/>
<text x="1436.5" y="102.4" font-size="14" fill="#272727" text-anchor="start">-1000</text>
<line x1="1426.5" y1="149.8" x2="1429.0" y2="149.8" stroke="#2a2a2a" stroke-width="1"/>
<text x="1436.5" y="154.9" font-size="14" fill="#272727" text-anchor="start">-1200</text>
<line x1="1426.5" y1="202.0" x2="1429.0" y2="202.0" stroke="#2a2a2a" stroke-width="1"/>
<text x="1436.5" y="207.1" font-size="14" fill="#272727" text-anchor="start">-1400</text>
<text x="1667.0" y="36.0" font-size="16" fill="#272727" text-anchor="start">surface (m)</text>
<g transform="matrix(0.9316 0.3635 -0.3719 0.9283 1531.00 46.30)"><g clip-path="url(#c7)">
<rect x="-1" y="-1" width="164.8" height="133.8" fill="url(#t5s)"/>
<ellipse cx="81.4" cy="6.6" rx="57.0" ry="18.4" fill="#cde5ee" opacity="0.90" filter="url(#b8)"/>
<ellipse cx="8.1" cy="46.1" rx="16.3" ry="39.5" fill="#91d5ed" opacity="0.60" filter="url(#b8)"/>
<polygon points="84.7,-13.2 179.1,-13.2 179.1,125.2 154.7,105.4 143.3,72.5 130.3,44.8 110.7,21.1 94.4,5.3" fill="#d6dfe5" opacity="1.00" filter="url(#b5)"/>
<polygon points="101.0,-13.2 179.1,-13.2 179.1,98.8 156.3,76.4 146.6,52.7 133.5,31.6 117.2,13.2" fill="#87939b" opacity="1.00" filter="url(#b4)"/>
<polygon points="114.0,-13.2 179.1,-13.2 179.1,76.4 161.2,63.2 151.4,42.2 140.0,23.7 127.0,7.9" fill="#4c5960" opacity="1.00" filter="url(#b4)"/>
<ellipse cx="158.0" cy="118.6" rx="8.1" ry="18.4" fill="#cde5ee" opacity="0.80" filter="url(#b5)"/>
<ellipse cx="68.4" cy="79.1" rx="32.6" ry="17.1" fill="#13aee1" opacity="0.95" filter="url(#b7)"/>
<ellipse cx="110.7" cy="89.6" rx="26.1" ry="17.1" fill="#13aee1" opacity="0.95" filter="url(#b7)"/>
<ellipse cx="130.3" cy="112.0" rx="16.3" ry="15.8" fill="#1bb0e2" opacity="0.70" filter="url(#b7)"/>
<ellipse cx="89.6" cy="47.4" rx="35.8" ry="9.2" fill="#82d0eb" opacity="0.70" filter="url(#b6)"/>
<ellipse cx="48.9" cy="125.2" rx="48.9" ry="13.2" fill="#24b4e3" opacity="0.70" filter="url(#b7)"/>
</g></g>
<polygon points="1549.8,86.9 1640.8,122.4 1614.9,187.2 1523.9,151.7" fill="none" stroke="#333" stroke-width="1.3" stroke-dasharray="1.3 4"/>
<g transform="translate(1495.5 163.0) rotate(21.7)"><text font-size="14.5" fill="#fff" letter-spacing="0.8">5km</text><rect x="-5.5" y="3.5" width="33.0" height="3.2" fill="#fff"/></g>
<rect x="1699.0" y="46.5" width="29.5" height="180.5" fill="url(#gS)" stroke="#2a2a2a" stroke-width="1"/>
<line x1="1726.0" y1="57.0" x2="1728.5" y2="57.0" stroke="#2a2a2a" stroke-width="1"/>
<text x="1736.0" y="62.1" font-size="14" fill="#272727" text-anchor="start">760</text>
<line x1="1726.0" y1="130.5" x2="1728.5" y2="130.5" stroke="#2a2a2a" stroke-width="1"/>
<text x="1736.0" y="135.6" font-size="14" fill="#272727" text-anchor="start">720</text>
<line x1="1726.0" y1="202.0" x2="1728.5" y2="202.0" stroke="#2a2a2a" stroke-width="1"/>
<text x="1736.0" y="207.1" font-size="14" fill="#272727" text-anchor="start">680</text>
<rect x="5.5" y="239.5" width="354.0" height="783.0" fill="none" stroke="#333" stroke-width="1.7" rx="1.5"/>
<text x="11.5" y="271.0" font-size="23.1" fill="#111" text-anchor="start">iSTARt6</text>
<g clip-path="url(#c8)"><g transform="matrix(0.7542 0.6566 -0.6779 0.7351 126.30 259.80)"><g>
<rect x="-14" y="-14" width="165.4" height="197.5" fill="url(#t6v)"/>
<ellipse cx="137.4" cy="169.5" rx="27.5" ry="27.1" fill="#4743e7" opacity="0.80" filter="url(#b8)"/>
<ellipse cx="137.4" cy="55.9" rx="13.7" ry="27.1" fill="#8dcb4f" opacity="0.90" filter="url(#b6)"/>
<ellipse cx="137.4" cy="50.8" rx="6.9" ry="13.6" fill="#c1c32d" opacity="0.80" filter="url(#b4)"/>
</g></g></g>
<path d="M127.5 266.3L130.7 267.2M132.9 267.8L130.4 268.5L131.1 265.8ZM138.6 275.3L142.6 277.0M145.3 278.2L142.1 278.3L143.2 275.7ZM146.2 284.6L150.7 287.1M153.7 288.8L150.0 288.3L151.4 285.9ZM153.0 291.7L158.1 295.3M160.9 297.4L157.3 296.5L158.9 294.2ZM162.7 299.5L168.3 304.7M170.9 307.0L167.4 305.7L169.3 303.6ZM173.8 306.1L179.8 313.1M182.0 315.7L178.7 314.0L180.8 312.2ZM181.3 319.2L187.1 328.3M188.9 331.3L185.9 329.1L188.2 327.6ZM192.2 323.4L197.6 334.2M199.2 337.3L196.3 334.8L198.9 333.6ZM200.4 337.0L204.6 350.0M205.6 353.4L203.2 350.5L205.9 349.6ZM212.1 342.3L216.4 356.9M217.3 360.3L215.0 357.3L217.7 356.5ZM224.8 350.2L229.5 366.5M230.5 369.9L228.2 366.9L230.9 366.1ZM120.2 278.5L123.6 279.5M125.9 280.2L123.2 280.9L124.0 278.2ZM127.5 283.3L131.3 284.8M133.9 285.8L130.8 286.1L131.8 283.5ZM134.3 295.6L138.7 298.0M141.6 299.6L138.0 299.2L139.4 296.8ZM144.3 302.1L149.3 305.7M152.2 307.8L148.5 306.9L150.1 304.6ZM156.6 310.9L162.2 316.4M164.7 318.8L161.2 317.4L163.2 315.4ZM167.0 317.3L172.9 324.4M175.1 327.2L171.8 325.3L174.0 323.6ZM173.8 324.4L179.5 333.0M181.4 335.9L178.3 333.8L180.7 332.2ZM184.8 336.0L189.8 346.9M191.2 350.1L188.5 347.5L191.0 346.3ZM191.9 343.6L196.2 356.1M197.3 359.4L194.8 356.6L197.5 355.7ZM203.2 350.9L207.3 365.1M208.3 368.4L206.0 365.5L208.6 364.7ZM212.2 362.3L216.7 377.9M217.7 381.3L215.4 378.3L218.1 377.5ZM107.5 287.3L110.7 288.2M112.8 288.7L110.4 289.5L111.1 286.8ZM116.7 298.0L120.6 299.6M123.2 300.7L120.1 300.9L121.1 298.4ZM129.7 304.0L134.1 306.6M137.0 308.3L133.4 307.8L134.8 305.4ZM140.9 312.3L146.0 316.3M148.8 318.5L145.2 317.4L146.9 315.2ZM145.1 321.6L150.5 326.8M153.0 329.2L149.5 327.8L151.4 325.8ZM154.6 327.6L160.2 334.2M162.5 336.8L159.2 335.1L161.3 333.3ZM162.7 336.2L168.2 344.5M170.2 347.4L167.1 345.3L169.4 343.7ZM175.6 346.6L180.4 357.2M181.9 360.4L179.1 357.8L181.7 356.7ZM186.7 353.9L190.5 366.5M191.5 369.8L189.2 366.9L191.8 366.1ZM194.1 362.8L198.0 376.6M199.0 380.0L196.7 377.0L199.3 376.2ZM203.6 369.9L207.9 385.0M208.9 388.3L206.6 385.4L209.3 384.6ZM99.4 300.9L102.8 301.9M105.0 302.6L102.4 303.2L103.2 300.5ZM108.6 306.4L112.5 308.0M115.0 309.0L111.9 309.3L113.0 306.7ZM116.2 313.3L120.4 315.5M123.2 317.0L119.7 316.8L121.0 314.3ZM126.7 325.0L131.5 328.7M134.3 330.8L130.7 329.8L132.4 327.6ZM140.1 330.3L145.4 335.6M147.9 338.1L144.4 336.6L146.4 334.6ZM145.9 338.9L151.3 345.4M153.6 348.1L150.3 346.3L152.4 344.5ZM154.8 344.7L160.1 352.7M162.1 355.7L159.0 353.5L161.3 352.0ZM166.4 351.7L171.3 361.7M172.8 364.8L170.0 362.3L172.5 361.1ZM172.4 362.8L176.4 374.3M177.6 377.6L175.1 374.7L177.7 373.8ZM184.5 368.7L188.2 381.7M189.2 385.1L186.9 382.1L189.6 381.4ZM192.1 380.9L196.2 395.2M197.2 398.6L194.9 395.6L197.6 394.8ZM89.7 305.3L92.9 306.1M95.0 306.6L92.5 307.4L93.2 304.7ZM99.1 317.3L102.9 318.9M105.4 320.0L102.4 320.2L103.4 317.6ZM109.7 326.4L114.0 328.9M116.8 330.6L113.3 330.1L114.7 327.7ZM119.0 330.4L123.6 333.8M126.4 335.8L122.8 334.9L124.4 332.6ZM126.6 341.2L131.6 346.0M134.2 348.4L130.7 347.0L132.6 345.0ZM141.8 347.9L147.1 354.8M149.3 357.5L146.0 355.6L148.2 353.9ZM147.6 353.7L152.8 361.6M154.7 364.6L151.6 362.4L154.0 360.9ZM156.1 363.4L160.8 373.0M162.3 376.1L159.5 373.6L162.1 372.4ZM168.0 371.8L171.8 383.4M172.8 386.7L170.4 383.8L173.1 382.9ZM174.3 378.6L177.9 391.2M178.9 394.6L176.6 391.6L179.3 390.8ZM184.6 388.9L188.6 402.8M189.5 406.2L187.2 403.2L189.9 402.4ZM83.4 319.2L86.7 320.2M89.0 320.9L86.3 321.6L87.2 318.9ZM91.3 325.5L95.1 327.0M97.6 328.1L94.6 328.3L95.6 325.7ZM104.0 331.4L108.2 333.9M111.0 335.5L107.5 335.1L108.9 332.7ZM111.0 344.1L115.6 347.7M118.4 349.8L114.8 348.8L116.5 346.5ZM120.3 352.3L125.2 357.2M127.7 359.7L124.3 358.2L126.2 356.2ZM129.5 356.7L134.6 362.9M136.9 365.6L133.5 363.8L135.7 362.0ZM136.6 365.1L141.6 372.6M143.6 375.5L140.5 373.4L142.8 371.8ZM148.5 370.3L153.1 379.5M154.7 382.6L151.8 380.1L154.4 378.9ZM158.1 379.5L161.9 390.4M163.0 393.7L160.5 390.9L163.2 390.0ZM168.6 387.6L172.1 400.0M173.1 403.3L170.8 400.4L173.4 399.6ZM176.1 395.1L179.9 408.4M180.9 411.8L178.6 408.8L181.3 408.0ZM72.5 324.1L75.7 324.9M77.7 325.4L75.3 326.2L76.0 323.5ZM79.3 334.6L82.9 336.0M85.3 336.9L82.4 337.3L83.4 334.6ZM94.5 341.3L98.6 343.6M101.4 345.2L97.9 344.9L99.3 342.4ZM101.5 349.1L105.9 352.3M108.7 354.4L105.0 353.4L106.7 351.2ZM112.4 356.6L117.2 361.2M119.8 363.6L116.3 362.2L118.2 360.2ZM119.8 370.9L124.7 377.1M126.9 379.9L123.6 378.0L125.8 376.3ZM130.0 375.2L134.8 382.7M136.6 385.7L133.6 383.5L136.0 382.0ZM139.6 380.1L144.0 389.0M145.6 392.2L142.8 389.7L145.3 388.4ZM149.3 390.1L152.9 400.7M154.0 404.0L151.6 401.1L154.2 400.2ZM161.2 399.5L164.7 411.6M165.7 415.0L163.4 412.0L166.1 411.3ZM163.7 408.7L167.3 421.4M168.3 424.8L166.0 421.8L168.7 421.0ZM66.5 334.1L69.7 335.0M71.8 335.6L69.3 336.4L70.1 333.7ZM76.5 341.8L80.2 343.3M82.7 344.4L79.7 344.6L80.7 342.0ZM81.5 354.7L85.5 357.0M88.2 358.5L84.8 358.2L86.2 355.8ZM93.6 362.7L97.9 366.0M100.7 368.2L97.1 367.1L98.8 364.9ZM102.0 367.1L106.7 371.4M109.2 373.8L105.7 372.4L107.6 370.4ZM109.2 376.9L113.9 382.5M116.2 385.2L112.9 383.4L115.0 381.6ZM120.1 386.5L124.7 393.8M126.5 396.7L123.5 394.5L125.8 393.0ZM131.2 391.2L135.4 399.9M136.9 403.1L134.2 400.5L136.7 399.3ZM139.1 404.9L142.3 415.3M143.4 418.7L141.0 415.7L143.7 414.9ZM149.5 412.4L152.8 423.9M153.8 427.3L151.5 424.3L154.2 423.5ZM159.1 420.1L162.7 432.7M163.7 436.1L161.4 433.1L164.1 432.3ZM54.7 344.5L57.8 345.3M59.9 345.8L57.4 346.6L58.2 343.9ZM66.9 350.7L70.5 352.2M72.9 353.2L70.0 353.5L71.0 350.9ZM73.8 359.0L77.7 361.1M80.3 362.5L77.0 362.3L78.4 359.8ZM82.3 370.1L86.4 373.1M89.2 375.1L85.6 374.2L87.2 371.9ZM95.7 379.6L100.2 384.1M102.7 386.6L99.2 385.1L101.2 383.1ZM102.5 390.4L107.1 396.2M109.2 399.0L106.0 397.1L108.2 395.4ZM114.9 395.5L119.3 402.9M121.1 405.9L118.1 403.6L120.5 402.2ZM121.9 400.4L126.0 408.7M127.5 411.9L124.7 409.4L127.2 408.1ZM131.3 408.4L134.7 418.2M135.8 421.5L133.4 418.6L136.0 417.7ZM139.3 421.6L142.5 432.6M143.4 435.9L141.1 433.0L143.8 432.2ZM151.6 428.5L155.1 440.7M156.0 444.0L153.7 441.1L156.4 440.3ZM46.3 357.0L49.5 357.9M51.6 358.5L49.1 359.3L49.9 356.6ZM54.0 362.5L57.5 363.8M59.9 364.7L57.0 365.1L58.0 362.5ZM66.3 374.2L70.2 376.6M72.9 378.2L69.5 377.8L70.9 375.4ZM76.4 380.3L80.5 383.5M83.3 385.6L79.7 384.6L81.4 382.4ZM82.1 388.0L86.3 392.0M88.9 394.4L85.4 393.0L87.3 391.0ZM92.1 396.8L96.5 402.1M98.7 404.8L95.4 403.0L97.5 401.2ZM106.0 405.3L110.2 412.4M112.0 415.4L109.0 413.1L111.4 411.7ZM110.5 414.2L114.3 422.2M115.8 425.4L113.1 422.8L115.6 421.6ZM124.8 419.7L127.9 429.4M128.9 432.8L126.5 429.8L129.2 429.0ZM131.9 425.7L134.9 436.2M135.8 439.5L133.5 436.5L136.2 435.8ZM141.5 439.9L144.8 451.6M145.8 454.9L143.5 451.9L146.2 451.2ZM35.2 364.9L38.3 365.7M40.4 366.2L38.0 367.0L38.7 364.3ZM48.9 375.3L52.5 376.9M54.9 378.0L51.9 378.2L53.1 375.6ZM56.2 380.6L60.0 382.8M62.6 384.2L59.3 384.0L60.7 381.6ZM67.2 385.4L71.2 388.2M73.8 390.2L70.4 389.4L72.0 387.1ZM77.1 399.8L81.3 404.0M83.8 406.5L80.3 405.0L82.3 403.0ZM83.4 407.8L87.6 413.0M89.8 415.7L86.5 413.9L88.7 412.1ZM92.7 415.4L96.8 421.8M98.7 424.7L95.6 422.5L98.0 421.0ZM106.8 421.7L110.4 429.7M111.9 432.9L109.1 430.3L111.7 429.1ZM113.5 428.2L116.6 437.2M117.7 440.5L115.2 437.7L117.9 436.8ZM121.5 437.8L124.4 447.8M125.3 451.2L123.0 448.2L125.7 447.4ZM131.8 445.3L134.9 456.2M135.9 459.6L133.6 456.6L136.2 455.8ZM26.0 374.8L29.0 375.6M31.1 376.2L28.7 377.0L29.4 374.3ZM38.4 381.6L41.9 383.0M44.2 384.0L41.3 384.3L42.4 381.7ZM46.7 392.8L50.5 395.0M53.0 396.5L49.8 396.2L51.2 393.8ZM55.4 400.5L59.3 403.4M61.9 405.3L58.4 404.5L60.1 402.3ZM66.9 407.1L70.9 410.9M73.4 413.3L69.9 411.9L71.9 409.9ZM78.8 412.8L82.9 417.9M85.1 420.6L81.8 418.8L84.0 417.0ZM87.1 421.5L91.0 427.8M92.9 430.7L89.9 428.5L92.2 427.0ZM91.9 431.2L95.5 438.4M97.0 441.5L94.2 439.0L96.7 437.7ZM103.5 438.4L106.4 446.9M107.6 450.2L105.1 447.4L107.8 446.5ZM114.8 449.0L117.6 458.8M118.6 462.1L116.3 459.1L118.9 458.4ZM122.7 455.6L125.7 466.0M126.7 469.4L124.4 466.4L127.1 465.7ZM19.5 385.3L22.6 386.2M24.7 386.8L22.2 387.6L23.0 384.9ZM28.0 390.8L31.5 392.1M33.7 393.0L31.0 393.4L32.0 390.8ZM39.3 398.1L43.1 400.1M45.5 401.5L42.4 401.4L43.7 398.9ZM49.9 409.3L53.7 412.3M56.3 414.2L52.9 413.4L54.6 411.2ZM57.3 418.0L61.1 421.7M63.6 424.1L60.1 422.7L62.1 420.7ZM69.6 425.9L73.5 430.9M75.6 433.7L72.4 431.8L74.6 430.1ZM77.5 433.3L81.2 439.4M83.1 442.3L80.0 440.1L82.4 438.6ZM85.6 442.1L89.0 449.2M90.4 452.4L87.7 449.8L90.2 448.6ZM95.5 449.3L98.3 457.6M99.4 460.9L96.9 458.0L99.6 457.1ZM103.2 459.6L105.8 468.7M106.7 472.1L104.4 469.1L107.1 468.4ZM113.8 468.3L116.7 478.3M117.6 481.7L115.3 478.7L118.0 477.9Z" stroke="#6f6668" fill="#6f6668" stroke-width="1.0" opacity="0.7" stroke-linejoin="round"/>
<polygon points="128.9,307.1 180.6,352.1 109.1,429.9 58.6,382.9" fill="none" stroke="#26305e" stroke-width="1.3" stroke-dasharray="1.3 4"/>
<g transform="translate(102.5 460.0) rotate(-44.0)"><text font-size="14.5" fill="#fff" letter-spacing="0.8">5km</text><rect x="3.0" y="6.0" width="33.0" height="3.2" fill="#fff"/></g>
<rect x="247.0" y="261.0" width="31.7" height="216.5" fill="url(#gP)" stroke="#2a2a2a" stroke-width="1"/>
<line x1="276.2" y1="298.0" x2="278.7" y2="298.0" stroke="#2a2a2a" stroke-width="1"/>
<text x="285.7" y="303.1" font-size="14" fill="#272727" text-anchor="start">500</text>
<line x1="276.2" y1="353.2" x2="278.7" y2="353.2" stroke="#2a2a2a" stroke-width="1"/>
<text x="285.7" y="358.3" font-size="14" fill="#272727" text-anchor="start">400</text>
<line x1="276.2" y1="407.6" x2="278.7" y2="407.6" stroke="#2a2a2a" stroke-width="1"/>
<text x="285.7" y="412.7" font-size="14" fill="#272727" text-anchor="start">300</text>
<line x1="276.2" y1="461.6" x2="278.7" y2="461.6" stroke="#2a2a2a" stroke-width="1"/>
<text x="285.7" y="466.7" font-size="14" fill="#272727" text-anchor="start">200</text>
<text transform="translate(334.5 369.0) rotate(-90)" font-size="16" fill="#272727" text-anchor="middle">velocity (m/yr)</text>
<g clip-path="url(#c9)"><g transform="matrix(0.7542 0.6566 -0.6779 0.7351 126.30 518.90)"><g>
<rect x="-14" y="-14" width="165.4" height="197.5" fill="url(#t6b)"/>
<ellipse cx="137.4" cy="25.4" rx="41.2" ry="50.8" fill="#0f766c" opacity="0.80" filter="url(#b10)"/>
<ellipse cx="68.7" cy="84.7" rx="30.2" ry="64.4" fill="#6bc5b8" opacity="0.85" filter="url(#b10)"/>
<ellipse cx="0.0" cy="93.2" rx="20.6" ry="50.8" fill="#319f93" opacity="0.60" filter="url(#b10)"/>
<ellipse cx="98.9" cy="115.3" rx="16.5" ry="16.9" fill="#cbece2" opacity="0.95" filter="url(#b6)"/>
<ellipse cx="101.6" cy="122.0" rx="8.2" ry="8.5" fill="#f1daa5" opacity="0.95" filter="url(#b3)"/>
<ellipse cx="105.8" cy="125.4" rx="4.1" ry="4.2" fill="#d1a25e" opacity="0.90" filter="url(#b2)"/>
<ellipse cx="109.9" cy="144.1" rx="27.5" ry="16.9" fill="#78cdbf" opacity="0.70" filter="url(#b7)"/>
</g></g></g>
<polygon points="128.9,566.2 180.6,611.2 109.1,689.0 58.6,642.0" fill="none" stroke="#333" stroke-width="1.3" stroke-dasharray="1.3 4"/>
<g transform="translate(102.5 718.5) rotate(-44.0)"><text font-size="14.5" fill="#fff" letter-spacing="0.8">5km</text><rect x="3.0" y="6.0" width="33.0" height="3.2" fill="#fff"/></g>
<rect x="247.0" y="519.0" width="31.7" height="218.0" fill="url(#gB)" stroke="#2a2a2a" stroke-width="1"/>
<line x1="276.2" y1="547.8" x2="278.7" y2="547.8" stroke="#2a2a2a" stroke-width="1"/>
<text x="285.5" y="552.9" font-size="14" fill="#272727" text-anchor="start">-200</text>
<line x1="276.2" y1="609.5" x2="278.7" y2="609.5" stroke="#2a2a2a" stroke-width="1"/>
<text x="285.5" y="614.6" font-size="14" fill="#272727" text-anchor="start">-400</text>
<line x1="276.2" y1="673.3" x2="278.7" y2="673.3" stroke="#2a2a2a" stroke-width="1"/>
<text x="285.5" y="678.4" font-size="14" fill="#272727" text-anchor="start">-600</text>
<line x1="276.2" y1="735.0" x2="278.7" y2="735.0" stroke="#2a2a2a" stroke-width="1"/>
<text x="285.5" y="740.1" font-size="14" fill="#272727" text-anchor="start">-800</text>
<text transform="translate(340.0 628.5) rotate(-90)" font-size="16" fill="#272727" text-anchor="middle">bed (m)</text>
<g clip-path="url(#c10)"><g transform="matrix(0.7531 0.6579 -0.6757 0.7372 126.30 773.10)"><g>
<rect x="-14" y="-14" width="165.6" height="197.0" fill="url(#t6s)"/>
<ellipse cx="0.0" cy="169.0" rx="16.5" ry="23.7" fill="#d4e5ec" opacity="0.90" filter="url(#b8)"/>
<ellipse cx="82.5" cy="50.7" rx="34.4" ry="37.2" fill="#24b4e3" opacity="0.80" filter="url(#b10)"/>
<ellipse cx="116.9" cy="104.8" rx="19.3" ry="33.8" fill="#29b5e3" opacity="0.70" filter="url(#b8)"/>
<ellipse cx="79.8" cy="131.8" rx="9.6" ry="10.1" fill="#cde5ee" opacity="0.90" filter="url(#b4)"/>
<ellipse cx="41.3" cy="33.8" rx="27.5" ry="33.8" fill="#72cbe9" opacity="0.60" filter="url(#b10)"/>
<ellipse cx="68.8" cy="169.0" rx="55.0" ry="20.3" fill="#91d5ed" opacity="0.60" filter="url(#b8)"/>
</g></g></g>
<polygon points="128.9,820.6 180.6,865.6 109.1,943.2 58.9,895.9" fill="none" stroke="#333" stroke-width="1.3" stroke-dasharray="1.3 4"/>
<g transform="translate(102.5 973.0) rotate(-44.0)"><text font-size="14.5" fill="#fff" letter-spacing="0.8">5km</text><rect x="3.0" y="6.0" width="33.0" height="3.2" fill="#fff"/></g>
<rect x="247.0" y="773.5" width="31.7" height="217.5" fill="url(#gS)" stroke="#2a2a2a" stroke-width="1"/>
<line x1="276.2" y1="794.6" x2="278.7" y2="794.6" stroke="#2a2a2a" stroke-width="1"/>
<text x="289.5" y="799.7" font-size="14" fill="#272727" text-anchor="start">780</text>
<line x1="276.2" y1="883.0" x2="278.7" y2="883.0" stroke="#2a2a2a" stroke-width="1"/>
<text x="289.5" y="888.1" font-size="14" fill="#272727" text-anchor="start">740</text>
<line x1="276.2" y1="970.4" x2="278.7" y2="970.4" stroke="#2a2a2a" stroke-width="1"/>
<text x="289.5" y="975.5" font-size="14" fill="#272727" text-anchor="start">700</text>
<text transform="translate(335.5 883.0) rotate(-90)" font-size="16" fill="#272727" text-anchor="middle">surface (m)</text>
<text x="651.5" y="344.5" font-size="26" fill="#1a1a1a" text-anchor="middle">surface velocity (m/yr)</text>
<g transform="matrix(1.0000 0.0000 0.0000 1.0000 445.00 376.50)"><g clip-path="url(#c11)">
<rect x="-1" y="-1" width="413.5" height="544.8" fill="#3e26a8"/>
<ellipse cx="115.0" cy="93.5" rx="120.0" ry="35.0" fill="#422fc2" opacity="0.80" filter="url(#b15)" transform="rotate(25 115.0 93.5)"/>
<ellipse cx="75.0" cy="183.5" rx="70.0" ry="30.0" fill="#422fc2" opacity="0.80" filter="url(#b15)" transform="rotate(20 75.0 183.5)"/>
<ellipse cx="315.0" cy="93.5" rx="90.0" ry="30.0" fill="#422fc2" opacity="0.80" filter="url(#b15)" transform="rotate(-20 315.0 93.5)"/>
<ellipse cx="355.0" cy="183.5" rx="60.0" ry="30.0" fill="#422ebe" opacity="0.70" filter="url(#b15)" transform="rotate(-20 355.0 183.5)"/>
<ellipse cx="345.0" cy="363.5" rx="70.0" ry="25.0" fill="#4330c5" opacity="0.80" filter="url(#b12)" transform="rotate(-15 345.0 363.5)"/>
<ellipse cx="325.0" cy="423.5" rx="80.0" ry="20.0" fill="#4330c5" opacity="0.80" filter="url(#b12)" transform="rotate(-10 325.0 423.5)"/>
<ellipse cx="55.0" cy="483.5" rx="30.0" ry="60.0" fill="#4433cc" opacity="0.80" filter="url(#b12)" transform="rotate(10 55.0 483.5)"/>
<ellipse cx="345.0" cy="503.5" rx="60.0" ry="25.0" fill="#4330c5" opacity="0.70" filter="url(#b12)"/>
<ellipse cx="200.0" cy="43.5" rx="85.0" ry="90.0" fill="#4330c5" opacity="0.90" filter="url(#b25)"/>
<ellipse cx="198.0" cy="143.5" rx="60.0" ry="85.0" fill="#4537d6" opacity="0.90" filter="url(#b20)"/>
<polygon points="151.0,143.5 145.0,183.5 145.0,223.5 149.0,263.5 159.0,329.5 157.0,383.5 142.0,428.5 108.0,494.5 83.0,553.5 203.0,553.5 212.0,494.5 218.0,428.5 231.0,383.5 249.0,329.5 255.0,263.5 253.0,223.5 251.0,183.5 245.0,143.5" fill="#473fe3" opacity="0.95" filter="url(#b12)"/>
<polygon points="175.0,178.5 162.0,223.5 161.0,263.5 171.0,329.5 166.0,383.5 150.0,428.5 118.0,494.5 91.0,553.5 197.0,553.5 206.0,494.5 211.0,428.5 222.0,383.5 237.0,329.5 237.0,263.5 232.0,223.5 217.0,178.5" fill="#4563fd" opacity="0.95" filter="url(#b8)"/>
<polygon points="187.0,218.5 179.0,253.5 176.0,283.5 178.0,329.5 172.0,383.5 155.0,428.5 124.0,494.5 97.0,553.5 193.0,553.5 204.0,494.5 208.0,428.5 218.0,383.5 231.0,329.5 224.0,283.5 217.0,253.5 203.0,218.5" fill="#2895ec" opacity="1.00" filter="url(#b5)"/>
<polygon points="193.0,278.5 189.0,303.5 186.0,329.5 184.0,363.5 178.0,388.5 169.0,413.5 203.0,413.5 212.0,388.5 224.0,363.5 226.0,329.5 220.0,303.5 209.0,278.5" fill="#12beb9" opacity="1.00" filter="url(#b4)"/>
<polygon points="200.0,308.5 195.0,329.5 191.0,363.5 185.0,383.5 180.0,398.5 203.0,398.5 210.0,383.5 220.0,363.5 222.0,329.5 216.0,308.5" fill="#50cc80" opacity="1.00" filter="url(#b4)"/>
<polygon points="186.0,380.5 178.0,391.5 172.0,403.5 166.0,418.5 159.0,435.5 202.0,435.5 203.0,418.5 203.0,403.5 202.0,391.5 200.0,380.5" fill="#fdbd3d" opacity="1.00" filter="url(#b4)"/>
<polygon points="177.0,409.5 167.0,419.5 160.0,428.5 142.0,453.5 125.0,498.5 101.0,553.5 187.0,553.5 199.0,498.5 207.0,453.5 205.0,428.5 202.0,419.5 195.0,409.5" fill="#f6e028" opacity="1.00" filter="url(#b2)"/>
<polygon points="170.0,435.5 153.0,458.5 135.0,498.5 113.0,553.5 185.0,553.5 196.0,498.5 203.0,458.5 200.0,435.5" fill="#f7f51b" opacity="1.00" filter="url(#b4)"/>
<ellipse cx="227.0" cy="513.5" rx="22.0" ry="30.0" fill="#473fe3" opacity="0.80" filter="url(#b10)" transform="rotate(-15 227.0 513.5)"/>
<ellipse cx="140.0" cy="423.5" rx="18.0" ry="25.0" fill="#4539d9" opacity="0.70" filter="url(#b10)" transform="rotate(20 140.0 423.5)"/>
</g></g>
<path d="M461.6 918.5 L458.5 909 L456.1 904.2 L458.5 897.9 L452.9 890 L460 887.6 L464 883.7 L459.3 879 L463.2 871 L472.7 870.3 L480.6 879 L490 886.9 L494.8 879 L501.1 876.6 L509 880.5 L513.8 877.4 L520 867.9 L528 869.5 L535.9 874.2 L540.6 871.8 L547.7 880.5 L542.2 887.6 L543.8 896.3 L550.9 903.4 L556.4 902.7 L564.1 890.5 L564.9 875.4 L561.1 860.4 L564.1 843.8 L576.2 836.3 L571.6 830.3 L579.2 825.7 L595.7 818.2 L600.3 806.2 L606.3 796.4 L610.8 795.6 L608.5 804.6 L612.3 812.9 L616.8 812.2 L618.3 806.2 L623.6 807.7 L627.4 815.2 L631.9 813.7 L632.6 804.6 L637.2 803.9 L636.4 813.7 L631.9 822.7 L634.9 828.0 L639.4 822.7 L641.7 813.7 L646.2 812.9 L647.7 822.7 L651.5 826.5 L656.0 826.5 L654.5 834.8 L659.0 842.3 L665.0 848.3 L660.5 852.1 L665.0 860.4 L665.0 869.4 L671.0 878.4 L678.6 884.5 L681.6 892.0 L689.1 896.5 L689.1 905.6 L691.4 911.6 L684.6 916.1 L677.8 918.4" fill="none" stroke="#e426d2" stroke-width="1.1" stroke-linejoin="round"/>
<rect x="445.0" y="376.5" width="411.5" height="542.8" fill="none" stroke="#222" stroke-width="1"/>
<line x1="499.5" y1="919.3" x2="499.5" y2="915.3" stroke="#222" stroke-width="1"/>
<line x1="499.5" y1="376.5" x2="499.5" y2="380.5" stroke="#222" stroke-width="1"/>
<text x="499.5" y="942.3" font-size="15.8" fill="#272727" text-anchor="middle">-1650</text>
<line x1="608.7" y1="919.3" x2="608.7" y2="915.3" stroke="#222" stroke-width="1"/>
<line x1="608.7" y1="376.5" x2="608.7" y2="380.5" stroke="#222" stroke-width="1"/>
<text x="608.7" y="942.3" font-size="15.8" fill="#272727" text-anchor="middle">-1600</text>
<line x1="717.9" y1="919.3" x2="717.9" y2="915.3" stroke="#222" stroke-width="1"/>
<line x1="717.9" y1="376.5" x2="717.9" y2="380.5" stroke="#222" stroke-width="1"/>
<text x="717.9" y="942.3" font-size="15.8" fill="#272727" text-anchor="middle">-1550</text>
<line x1="827.1" y1="919.3" x2="827.1" y2="915.3" stroke="#222" stroke-width="1"/>
<line x1="827.1" y1="376.5" x2="827.1" y2="380.5" stroke="#222" stroke-width="1"/>
<text x="827.1" y="942.3" font-size="15.8" fill="#272727" text-anchor="middle">-1500</text>
<line x1="445.0" y1="458.7" x2="449.0" y2="458.7" stroke="#222" stroke-width="1"/>
<line x1="856.5" y1="458.7" x2="852.5" y2="458.7" stroke="#222" stroke-width="1"/>
<text x="437.0" y="464.3" font-size="15.8" fill="#272727" text-anchor="end">-100</text>
<line x1="445.0" y1="568.0" x2="449.0" y2="568.0" stroke="#222" stroke-width="1"/>
<line x1="856.5" y1="568.0" x2="852.5" y2="568.0" stroke="#222" stroke-width="1"/>
<text x="437.0" y="573.6" font-size="15.8" fill="#272727" text-anchor="end">-150</text>
<line x1="445.0" y1="677.2" x2="449.0" y2="677.2" stroke="#222" stroke-width="1"/>
<line x1="856.5" y1="677.2" x2="852.5" y2="677.2" stroke="#222" stroke-width="1"/>
<text x="437.0" y="682.8" font-size="15.8" fill="#272727" text-anchor="end">-200</text>
<line x1="445.0" y1="786.4" x2="449.0" y2="786.4" stroke="#222" stroke-width="1"/>
<line x1="856.5" y1="786.4" x2="852.5" y2="786.4" stroke="#222" stroke-width="1"/>
<text x="437.0" y="792.0" font-size="15.8" fill="#272727" text-anchor="end">-250</text>
<line x1="445.0" y1="895.6" x2="449.0" y2="895.6" stroke="#222" stroke-width="1"/>
<line x1="856.5" y1="895.6" x2="852.5" y2="895.6" stroke="#222" stroke-width="1"/>
<text x="437.0" y="901.2" font-size="15.8" fill="#272727" text-anchor="end">-300</text>
<text x="651.5" y="964.3" font-size="17" fill="#272727" text-anchor="middle">x (km)</text>
<text transform="translate(391.5 648) rotate(-90)" font-size="17" fill="#272727" text-anchor="middle">y (km)</text>
<rect x="873.5" y="378.5" width="32.8" height="540.8" fill="url(#gP)" stroke="#2a2a2a" stroke-width="1"/>
<line x1="903.8" y1="919.3" x2="906.3" y2="919.3" stroke="#2a2a2a" stroke-width="1"/>
<text x="916.5" y="924.0" font-size="13" fill="#272727" text-anchor="start">0</text>
<line x1="903.8" y1="853.2" x2="906.3" y2="853.2" stroke="#2a2a2a" stroke-width="1"/>
<text x="916.5" y="857.9" font-size="13" fill="#272727" text-anchor="start">500</text>
<line x1="903.8" y1="787.1" x2="906.3" y2="787.1" stroke="#2a2a2a" stroke-width="1"/>
<text x="916.5" y="791.8" font-size="13" fill="#272727" text-anchor="start">1000</text>
<line x1="903.8" y1="721.0" x2="906.3" y2="721.0" stroke="#2a2a2a" stroke-width="1"/>
<text x="916.5" y="725.7" font-size="13" fill="#272727" text-anchor="start">1500</text>
<line x1="903.8" y1="654.9" x2="906.3" y2="654.9" stroke="#2a2a2a" stroke-width="1"/>
<text x="916.5" y="659.6" font-size="13" fill="#272727" text-anchor="start">2000</text>
<line x1="903.8" y1="588.8" x2="906.3" y2="588.8" stroke="#2a2a2a" stroke-width="1"/>
<text x="916.5" y="593.5" font-size="13" fill="#272727" text-anchor="start">2500</text>
<line x1="903.8" y1="522.7" x2="906.3" y2="522.7" stroke="#2a2a2a" stroke-width="1"/>
<text x="916.5" y="527.4" font-size="13" fill="#272727" text-anchor="start">3000</text>
<line x1="903.8" y1="456.6" x2="906.3" y2="456.6" stroke="#2a2a2a" stroke-width="1"/>
<text x="916.5" y="461.3" font-size="13" fill="#272727" text-anchor="start">3500</text>
<line x1="903.8" y1="390.5" x2="906.3" y2="390.5" stroke="#2a2a2a" stroke-width="1"/>
<text x="916.5" y="395.2" font-size="13" fill="#272727" text-anchor="start">4000</text>
<rect x="624.5" y="500.5" width="32" height="22.5" fill="none" stroke="#dc1616" stroke-width="3"/>
<line x1="627" y1="521.2" x2="654" y2="521.2" stroke="#fff" stroke-width="1" stroke-dasharray="1.5 1.5" opacity="0.8"/>
<rect x="716.2" y="623" width="22.5" height="33.5" fill="none" stroke="#dc1616" stroke-width="3"/>
<line x1="718.5" y1="654.7" x2="736.5" y2="654.7" stroke="#fff" stroke-width="1" stroke-dasharray="1.5 1.5" opacity="0.8"/>
<rect x="-16.5" y="-11.5" width="33" height="23" transform="translate(697.5 519.5) rotate(21)" fill="none" stroke="#fff" stroke-width="2.6" stroke-dasharray="2.6 2.2"/>
<rect x="-12" y="-16.5" width="24" height="33" transform="translate(561 556.5) rotate(40)" fill="none" stroke="#fff" stroke-width="2.6" stroke-dasharray="2.6 2.2"/>
<rect x="723" y="693.5" width="23" height="33.5" fill="none" stroke="#fff" stroke-width="2.6" stroke-dasharray="2.6 2.2"/>
<rect x="-12" y="-17" width="24" height="34" transform="translate(714.5 782.5) rotate(-6)" fill="none" stroke="#fff" stroke-width="2.6" stroke-dasharray="2.6 2.2"/>
<text x="603.5" y="490.5" font-size="19.4" fill="#fff" text-anchor="start">iSTARt1</text>
<text x="696.5" y="501.5" font-size="19.4" fill="#fff" text-anchor="start">iSTARt5</text>
<text x="477.5" y="543.5" font-size="19.4" fill="#fff" text-anchor="start">iSTARt6</text>
<text x="742.5" y="646.0" font-size="19.4" fill="#fff" text-anchor="start">iSTARt7</text>
<text x="748.0" y="717.0" font-size="19.4" fill="#fff" text-anchor="start">iSTARit</text>
<text x="729.5" y="790.5" font-size="19.4" fill="#fff" text-anchor="start">iSTARt9</text>
<rect x="718.5" y="894" width="108.5" height="3" fill="#fff"/>
<text x="771.5" y="889.0" font-size="23" fill="#fff" text-anchor="middle">50km</text>
<rect x="965.0" y="286.5" width="257.8" height="734.5" fill="none" stroke="#333" stroke-width="1.7" rx="1.5"/>
<text x="983.5" y="318.0" font-size="23.1" fill="#111" text-anchor="start">iSTARt7</text>
<text x="1098.8" y="326.7" font-size="16" fill="#272727" text-anchor="start">velocity (m/yr)</text>
<g transform="matrix(1.0000 0.0000 0.0000 1.0000 982.70 336.40)"><g clip-path="url(#c12)">
<rect x="-1" y="-1" width="150.4" height="183.6" fill="#33c69d"/>
<ellipse cx="148.4" cy="90.8" rx="29.7" ry="90.8" fill="#12beb9" opacity="0.80" filter="url(#b10)"/>
<ellipse cx="66.8" cy="0.0" rx="29.7" ry="12.7" fill="#12beb9" opacity="0.80" filter="url(#b6)"/>
<ellipse cx="141.0" cy="0.0" rx="74.2" ry="43.6" fill="#2699ea" opacity="0.95" filter="url(#b9)"/>
<ellipse cx="148.4" cy="0.0" rx="47.5" ry="27.2" fill="#4367fd" opacity="0.95" filter="url(#b7)"/>
<ellipse cx="148.4" cy="-3.6" rx="25.2" ry="14.5" fill="#4433cc" opacity="0.95" filter="url(#b5)"/>
<ellipse cx="89.0" cy="190.7" rx="103.9" ry="27.2" fill="#15afd9" opacity="0.95" filter="url(#b8)"/>
<ellipse cx="0.0" cy="181.6" rx="29.7" ry="18.2" fill="#33c69d" opacity="0.80" filter="url(#b7)"/>
<ellipse cx="-11.9" cy="105.3" rx="118.7" ry="90.8" fill="#58cc79" opacity="1.00" filter="url(#b6)"/>
<ellipse cx="-11.9" cy="105.3" rx="103.9" ry="76.3" fill="#8dcb4f" opacity="1.00" filter="url(#b6)"/>
<ellipse cx="-11.9" cy="105.3" rx="92.0" ry="61.7" fill="#c1c32d" opacity="1.00" filter="url(#b6)"/>
<ellipse cx="-11.9" cy="105.3" rx="77.2" ry="49.0" fill="#eaba31" opacity="1.00" filter="url(#b6)"/>
<ellipse cx="-11.9" cy="105.3" rx="62.3" ry="38.1" fill="#fec13a" opacity="1.00" filter="url(#b6)"/>
<ellipse cx="0.0" cy="109.0" rx="32.6" ry="43.6" fill="#f6e028" opacity="0.95" filter="url(#b6)"/>
<ellipse cx="0.0" cy="105.3" rx="20.8" ry="30.9" fill="#f7f51b" opacity="0.95" filter="url(#b5)"/>
<ellipse cx="11.9" cy="36.3" rx="17.8" ry="29.1" fill="#d0c027" opacity="0.90" filter="url(#b6)" transform="rotate(15 11.9 36.3)"/>
<ellipse cx="3.0" cy="9.1" rx="11.9" ry="14.5" fill="#fec13a" opacity="0.90" filter="url(#b5)"/>
</g></g>
<path d="M991.3 340.2L978.5 345.7M974.4 347.4L978.0 344.4L979.1 346.9ZM1011.1 339.9L999.1 343.7M994.8 345.1L998.6 342.4L999.5 345.0ZM1029.2 341.2L1018.1 343.6M1013.7 344.6L1017.8 342.3L1018.4 345.0ZM1046.1 341.8L1035.9 343.2M1031.5 343.8L1035.7 341.8L1036.1 344.6ZM1064.5 341.5L1055.6 341.9M1051.1 342.1L1055.5 340.5L1055.6 343.3ZM1083.2 340.0L1075.5 340.0M1071.0 340.0L1075.5 338.6L1075.5 341.4ZM1103.0 343.2L1096.5 343.2M1092.1 343.2L1096.5 341.8L1096.5 344.6ZM1120.5 340.5L1114.7 340.5M1110.8 340.5L1114.7 339.1L1114.7 341.9ZM1001.7 354.4L989.2 358.5M984.9 359.9L988.7 357.2L989.6 359.9ZM1020.1 352.0L1008.4 354.9M1004.1 356.0L1008.1 353.5L1008.8 356.2ZM1040.0 350.4L1029.5 352.1M1025.1 352.8L1029.3 350.7L1029.8 353.5ZM1058.2 351.5L1048.8 352.2M1044.3 352.6L1048.7 350.8L1048.9 353.6ZM1074.2 350.8L1065.8 350.8M1061.3 350.8L1065.8 349.4L1065.9 352.2ZM1093.3 353.8L1086.3 353.8M1081.8 353.8L1086.3 352.4L1086.3 355.2ZM1111.4 352.8L1105.2 352.8M1101.1 352.8L1105.2 351.4L1105.2 354.2ZM1131.6 351.9L1126.2 351.9M1122.6 351.9L1126.2 350.5L1126.2 353.3ZM992.1 361.2L979.1 365.9M974.9 367.4L978.6 364.5L979.6 367.2ZM1009.0 361.8L996.7 365.3M992.4 366.5L996.3 363.9L997.1 366.6ZM1029.7 362.8L1018.6 364.9M1014.2 365.7L1018.3 363.5L1018.8 366.3ZM1047.0 363.5L1036.9 364.6M1032.4 365.2L1036.7 363.3L1037.0 366.0ZM1066.0 362.2L1057.1 362.6M1052.6 362.7L1057.1 361.2L1057.2 364.0ZM1085.8 364.0L1078.2 364.0M1073.7 364.0L1078.2 362.6L1078.2 365.4ZM1102.4 363.4L1095.8 363.4M1091.4 363.4L1095.8 362.0L1095.8 364.8ZM1121.9 364.7L1116.1 364.7M1112.3 364.7L1116.1 363.3L1116.1 366.1ZM1002.1 372.9L989.4 376.5M985.0 377.7L989.0 375.1L989.8 377.8ZM1021.5 372.1L1009.9 374.5M1005.5 375.4L1009.6 373.2L1010.2 375.9ZM1038.1 374.9L1027.4 376.4M1022.9 377.0L1027.2 375.0L1027.6 377.8ZM1055.7 373.7L1046.1 374.4M1041.6 374.8L1046.0 373.1L1046.2 375.8ZM1073.8 374.5L1065.4 374.6M1060.9 374.6L1065.4 373.2L1065.5 376.0ZM1094.9 374.1L1088.0 374.1M1083.5 374.1L1088.0 372.7L1088.0 375.5ZM1113.9 373.0L1107.8 373.0M1103.7 373.0L1107.8 371.6L1107.8 374.4ZM1131.8 374.2L1126.4 374.2M1122.8 374.2L1126.4 372.8L1126.4 375.6ZM992.3 384.3L979.0 388.2M974.6 389.4L978.6 386.8L979.3 389.5ZM1011.7 386.4L999.5 389.1M995.1 390.0L999.2 387.7L999.8 390.4ZM1029.0 385.2L1017.7 387.0M1013.3 387.7L1017.5 385.6L1018.0 388.3ZM1046.1 385.3L1035.9 386.4M1031.4 386.8L1035.7 385.0L1036.0 387.8ZM1066.7 386.6L1057.9 386.9M1053.4 387.0L1057.8 385.5L1057.9 388.3ZM1085.9 383.5L1078.3 383.5M1073.8 383.5L1078.3 382.1L1078.3 384.9ZM1102.9 385.2L1096.3 385.2M1092.0 385.2L1096.3 383.8L1096.3 386.6ZM1120.1 384.3L1114.3 384.3M1110.4 384.3L1114.3 382.9L1114.3 385.7ZM1000.1 393.5L987.1 396.6M982.7 397.6L986.8 395.2L987.4 397.9ZM1018.2 396.3L1006.3 398.4M1001.9 399.2L1006.1 397.0L1006.5 399.8ZM1037.0 394.1L1026.3 395.3M1021.8 395.9L1026.1 394.0L1026.4 396.7ZM1056.5 396.8L1047.0 397.3M1042.5 397.6L1046.9 395.9L1047.1 398.7ZM1074.0 394.9L1065.6 395.0M1061.1 395.0L1065.6 393.6L1065.6 396.4ZM1094.2 396.8L1087.2 396.8M1082.7 396.8L1087.2 395.4L1087.2 398.2ZM1113.7 396.7L1107.6 396.7M1103.5 396.7L1107.6 395.3L1107.6 398.1ZM1130.3 394.8L1124.9 394.8M1121.3 394.8L1124.9 393.4L1124.9 396.2ZM991.5 407.5L977.9 410.6M973.5 411.6L977.6 409.3L978.2 412.0ZM1012.2 404.3L999.8 406.5M995.4 407.3L999.6 405.1L1000.1 407.9ZM1027.9 404.7L1016.6 406.2M1012.1 406.8L1016.4 404.8L1016.8 407.6ZM1046.7 405.8L1036.5 406.6M1032.0 406.9L1036.4 405.2L1036.6 408.0ZM1066.5 404.8L1057.6 405.0M1053.1 405.1L1057.6 403.6L1057.7 406.4ZM1083.0 405.5L1075.2 405.5M1070.7 405.5L1075.2 404.1L1075.2 406.9ZM1102.8 406.1L1096.3 406.1M1091.9 406.1L1096.3 404.7L1096.3 407.5ZM1123.4 406.7L1117.7 406.7M1113.9 406.7L1117.7 405.3L1117.7 408.1ZM1001.3 417.0L988.3 419.4M983.8 420.2L988.0 418.0L988.5 420.7ZM1020.4 414.6L1008.6 416.2M1004.1 416.8L1008.4 414.8L1008.8 417.6ZM1039.8 417.7L1029.2 418.6M1024.7 419.0L1029.0 417.2L1029.3 420.0ZM1058.2 417.8L1048.8 418.2M1044.3 418.4L1048.8 416.8L1048.9 419.6ZM1075.1 416.1L1066.8 416.1M1062.3 416.1L1066.8 414.7L1066.8 417.5ZM1092.6 417.1L1085.5 417.1M1081.0 417.1L1085.5 415.7L1085.5 418.5ZM1111.0 414.6L1104.8 414.6M1100.6 414.6L1104.8 413.2L1104.8 416.0ZM1130.1 415.0L1124.6 415.0M1121.0 415.0L1124.6 413.6L1124.6 416.4ZM991.4 425.2L977.7 427.7M973.3 428.5L977.5 426.4L978.0 429.1ZM1008.7 425.7L996.1 427.5M991.7 428.1L995.9 426.1L996.3 428.9ZM1027.7 426.6L1016.2 427.7M1011.8 428.2L1016.1 426.4L1016.4 429.1ZM1045.9 428.8L1035.7 429.4M1031.2 429.7L1035.6 428.0L1035.8 430.8ZM1066.6 425.7L1057.7 425.8M1053.2 425.9L1057.7 424.4L1057.8 427.2ZM1083.8 426.5L1076.2 426.5M1071.7 426.5L1076.2 425.1L1076.2 427.9ZM1102.8 425.6L1096.2 425.6M1091.9 425.6L1096.2 424.2L1096.2 427.0ZM1123.1 429.3L1117.3 429.3M1113.5 429.3L1117.3 427.9L1117.3 430.7ZM1001.1 437.8L988.0 439.5M983.5 440.1L987.8 438.1L988.2 440.9ZM1018.3 436.1L1006.3 437.4M1001.8 437.8L1006.1 436.0L1006.4 438.8ZM1037.8 436.9L1027.0 437.6M1022.5 437.9L1026.9 436.2L1027.1 439.0ZM1058.1 436.4L1048.7 436.7M1044.2 436.8L1048.6 435.3L1048.7 438.1ZM1073.8 439.8L1065.4 439.9M1060.9 439.9L1065.4 438.5L1065.4 441.3ZM1094.1 436.3L1087.1 436.3M1082.6 436.3L1087.1 434.9L1087.1 437.7ZM1112.7 435.8L1106.6 435.8M1102.5 435.8L1106.6 434.4L1106.6 437.2ZM1131.2 440.0L1125.8 440.0M1122.2 440.0L1125.8 438.6L1125.8 441.4ZM993.3 449.4L979.6 451.0M975.1 451.5L979.4 449.6L979.7 452.4ZM1009.7 448.0L997.0 449.2M992.6 449.6L996.9 447.8L997.2 450.6ZM1027.9 449.7L1016.5 450.5M1012.0 450.8L1016.4 449.1L1016.5 451.9ZM1047.7 449.8L1037.6 450.2M1033.1 450.3L1037.6 448.8L1037.7 451.6ZM1065.6 447.4L1056.7 447.5M1052.2 447.5L1056.6 446.1L1056.7 448.9ZM1085.8 450.7L1078.3 450.7M1073.8 450.7L1078.3 449.3L1078.3 452.1ZM1104.5 449.9L1098.1 449.9M1093.7 449.9L1098.1 448.5L1098.1 451.3ZM1123.0 449.6L1117.2 449.6M1113.4 449.6L1117.2 448.2L1117.2 451.0ZM1000.3 459.3L987.0 460.4M982.5 460.8L986.9 459.0L987.1 461.8ZM1019.3 457.2L1007.3 458.0M1002.8 458.2L1007.2 456.6L1007.4 459.4ZM1036.7 458.3L1025.8 458.8M1021.3 458.9L1025.8 457.4L1025.9 460.1ZM1056.0 460.1L1046.5 460.3M1042.0 460.4L1046.5 458.9L1046.5 461.7ZM1077.1 459.0L1068.9 459.0M1064.4 459.0L1068.9 457.6L1068.9 460.4ZM1095.6 461.4L1088.7 461.4M1084.2 461.4L1088.7 460.0L1088.7 462.8ZM1114.2 458.7L1108.1 458.7M1104.0 458.7L1108.1 457.3L1108.1 460.1ZM1130.1 458.1L1124.7 458.1M1121.0 458.1L1124.7 456.7L1124.7 459.5ZM990.9 468.6L977.0 469.6M972.5 469.9L976.9 468.2L977.1 471.0ZM1011.0 471.7L998.4 472.2M993.9 472.4L998.3 470.8L998.4 473.6ZM1030.3 469.8L1019.0 470.2M1014.5 470.4L1019.0 468.8L1019.0 471.6ZM1048.2 471.2L1038.1 471.4M1033.6 471.5L1038.1 470.0L1038.1 472.8ZM1064.7 470.6L1055.7 470.7M1051.2 470.7L1055.7 469.3L1055.7 472.1ZM1086.2 471.2L1078.7 471.2M1074.2 471.2L1078.7 469.8L1078.7 472.6ZM1104.2 469.8L1097.7 469.8M1093.4 469.8L1097.7 468.4L1097.7 471.2ZM1120.7 471.2L1114.9 471.2M1111.0 471.2L1114.9 469.8L1114.9 472.6ZM1000.7 481.9L987.4 482.3M982.9 482.4L987.3 480.9L987.4 483.7ZM1021.5 480.2L1009.6 480.4M1005.1 480.5L1009.6 479.0L1009.6 481.8ZM1038.0 482.6L1027.2 482.7M1022.7 482.8L1027.2 481.3L1027.2 484.1ZM1057.7 479.2L1048.3 479.2M1043.8 479.3L1048.2 477.8L1048.3 480.6ZM1074.1 479.1L1065.8 479.1M1061.3 479.1L1065.8 477.7L1065.8 480.5ZM1095.4 481.9L1088.5 481.9M1084.0 481.9L1088.5 480.5L1088.5 483.3ZM1111.3 482.0L1105.1 482.0M1101.0 482.0L1105.1 480.6L1105.1 483.4ZM1132.8 481.3L1127.5 481.3M1123.9 481.3L1127.5 479.9L1127.5 482.7ZM991.4 491.5L977.5 491.6M973.0 491.6L977.5 490.2L977.5 493.0ZM1009.2 489.2L996.5 489.3M992.0 489.3L996.5 487.9L996.5 490.7ZM1030.8 491.9L1019.5 492.0M1015.0 492.0L1019.5 490.6L1019.5 493.4ZM1047.7 493.2L1037.6 493.2M1033.1 493.2L1037.6 491.8L1037.6 494.6ZM1065.9 492.9L1057.0 492.9M1052.5 492.9L1057.0 491.5L1057.0 494.3ZM1085.9 490.0L1078.3 490.0M1073.8 490.0L1078.3 488.6L1078.3 491.4ZM1102.4 490.4L1095.8 490.4M1091.5 490.4L1095.8 489.0L1095.8 491.8ZM1120.9 491.7L1115.1 491.7M1111.2 491.7L1115.1 490.3L1115.1 493.1ZM1000.4 501.6L987.1 501.4M982.6 501.3L987.1 500.0L987.1 502.8ZM1018.5 503.8L1006.4 503.5M1001.9 503.5L1006.4 502.2L1006.4 504.9ZM1037.8 501.8L1027.0 501.7M1022.5 501.7L1027.1 500.3L1027.0 503.1ZM1057.2 503.7L1047.7 503.7M1043.2 503.7L1047.7 502.3L1047.7 505.1ZM1075.2 503.8L1066.9 503.8M1062.4 503.8L1066.9 502.4L1066.9 505.2ZM1094.0 502.1L1087.0 502.1M1082.5 502.1L1087.0 500.7L1087.0 503.5ZM1112.6 499.9L1106.5 499.9M1102.4 499.9L1106.5 498.5L1106.5 501.3ZM1130.9 500.6L1125.5 500.6M1121.9 500.6L1125.5 499.2L1125.5 502.0ZM990.2 514.0L976.2 513.2M971.7 513.0L976.3 511.8L976.2 514.6ZM1009.4 512.5L996.7 512.1M992.2 511.9L996.7 510.7L996.6 513.5ZM1029.9 512.9L1018.6 512.6M1014.1 512.5L1018.6 511.2L1018.5 514.0ZM1047.0 512.7L1036.8 512.6M1032.3 512.5L1036.9 511.2L1036.8 514.0ZM1066.4 513.9L1057.5 513.8M1053.0 513.8L1057.5 512.4L1057.5 515.2ZM1083.3 512.9L1075.6 512.9M1071.1 512.9L1075.6 511.5L1075.6 514.3ZM1102.4 511.7L1095.8 511.7M1091.4 511.7L1095.8 510.3L1095.8 513.1ZM1122.8 512.7L1117.1 512.7M1113.2 512.7L1117.1 511.3L1117.1 514.1Z" stroke="#74586c" fill="#74586c" stroke-width="1.0" opacity="0.7" stroke-linejoin="round" clip-path="url(#c13)"/>
<polygon points="1018.6,371.7 1095.9,371.7 1095.9,481.3 1018.6,481.3" fill="none" stroke="#26405e" stroke-width="1.3" stroke-dasharray="1.3 4"/>
<g>
<rect x="993.8" y="508.9" width="36.0" height="3.2" fill="#fff"/>
<text x="1012.8" y="505.5" font-size="14.5" fill="#fff" text-anchor="middle" letter-spacing="0.8">5km</text>
</g>
<rect x="1147.3" y="336.4" width="22.3" height="181.6" fill="url(#gP)" stroke="#2a2a2a" stroke-width="1"/>
<line x1="1167.1" y1="337.3" x2="1169.6" y2="337.3" stroke="#2a2a2a" stroke-width="1"/>
<text x="1177.0" y="342.4" font-size="14" fill="#272727" text-anchor="start">500</text>
<line x1="1167.1" y1="383.5" x2="1169.6" y2="383.5" stroke="#2a2a2a" stroke-width="1"/>
<text x="1177.0" y="388.6" font-size="14" fill="#272727" text-anchor="start">400</text>
<line x1="1167.1" y1="429.2" x2="1169.6" y2="429.2" stroke="#2a2a2a" stroke-width="1"/>
<text x="1177.0" y="434.3" font-size="14" fill="#272727" text-anchor="start">300</text>
<line x1="1167.1" y1="474.5" x2="1169.6" y2="474.5" stroke="#2a2a2a" stroke-width="1"/>
<text x="1177.0" y="479.6" font-size="14" fill="#272727" text-anchor="start">200</text>
<text x="1127.0" y="556.7" font-size="16" fill="#272727" text-anchor="start">bed (m)</text>
<g transform="matrix(1.0000 0.0000 0.0000 1.0000 982.60 567.80)"><g clip-path="url(#c14)">
<rect x="-1" y="-1" width="150.4" height="183.4" fill="#71c9bc"/>
<polygon points="89.0,10.9 163.2,5.4 163.2,156.0 133.6,141.5 106.8,127.0 89.0,99.8" fill="#18897d" opacity="1.00" filter="url(#b5)"/>
<ellipse cx="126.1" cy="54.4" rx="20.8" ry="36.3" fill="#0f766c" opacity="0.80" filter="url(#b7)"/>
<ellipse cx="78.7" cy="148.7" rx="13.4" ry="36.3" fill="#249488" opacity="0.90" filter="url(#b7)"/>
<ellipse cx="92.0" cy="130.6" rx="11.9" ry="18.1" fill="#219185" opacity="0.70" filter="url(#b6)"/>
<ellipse cx="130.6" cy="163.3" rx="23.7" ry="25.4" fill="#78cdbf" opacity="0.90" filter="url(#b7)"/>
<ellipse cx="41.6" cy="81.6" rx="41.6" ry="39.9" fill="#46b0a3" opacity="0.60" filter="url(#b8)"/>
<ellipse cx="40.1" cy="-3.6" rx="37.1" ry="18.1" fill="#edd39b" opacity="0.95" filter="url(#b5)"/>
<ellipse cx="14.8" cy="3.6" rx="14.8" ry="9.1" fill="#e4eed8" opacity="0.80" filter="url(#b5)"/>
<ellipse cx="7.4" cy="25.4" rx="11.9" ry="14.5" fill="#a0ded1" opacity="0.80" filter="url(#b6)"/>
<ellipse cx="111.3" cy="3.6" rx="29.7" ry="7.3" fill="#84d4c6" opacity="0.80" filter="url(#b5)"/>
<ellipse cx="65.3" cy="49.0" rx="8.9" ry="6.3" fill="#f0efd3" opacity="0.80" filter="url(#b4)"/>
<ellipse cx="80.9" cy="49.0" rx="4.5" ry="30.8" fill="#cbece2" opacity="0.90" filter="url(#b3)"/>
<ellipse cx="83.1" cy="23.6" rx="3.7" ry="9.1" fill="#f0efd3" opacity="0.80" filter="url(#b3)"/>
<ellipse cx="53.4" cy="65.3" rx="17.8" ry="2.2" fill="#afe2d7" opacity="0.80" filter="url(#b2)"/>
<ellipse cx="53.4" cy="74.4" rx="17.8" ry="2.2" fill="#afe2d7" opacity="0.70" filter="url(#b2)"/>
<ellipse cx="66.8" cy="101.6" rx="17.8" ry="2.2" fill="#a0ded1" opacity="0.70" filter="url(#b2)"/>
<ellipse cx="0.0" cy="181.4" rx="19.3" ry="18.1" fill="#f1daa5" opacity="0.95" filter="url(#b6)"/>
<ellipse cx="0.0" cy="112.5" rx="7.4" ry="45.4" fill="#84d4c6" opacity="0.70" filter="url(#b6)"/>
<ellipse cx="37.1" cy="172.3" rx="23.7" ry="14.5" fill="#92d9cc" opacity="0.80" filter="url(#b6)"/>
</g></g>
<polygon points="1018.0,602.7 1095.6,602.7 1095.6,713.3 1018.0,713.3" fill="none" stroke="#333" stroke-width="1.3" stroke-dasharray="1.3 4"/>
<g>
<rect x="993.8" y="739.9" width="36.0" height="3.2" fill="#fff"/>
<text x="1012.8" y="736.5" font-size="14.5" fill="#fff" text-anchor="middle" letter-spacing="0.8">5km</text>
</g>
<rect x="1147.5" y="567.8" width="22.3" height="181.4" fill="url(#gB)" stroke="#2a2a2a" stroke-width="1"/>
<line x1="1167.3" y1="578.5" x2="1169.8" y2="578.5" stroke="#2a2a2a" stroke-width="1"/>
<text x="1177.0" y="583.6" font-size="14" fill="#272727" text-anchor="start">-700</text>
<line x1="1167.3" y1="631.3" x2="1169.8" y2="631.3" stroke="#2a2a2a" stroke-width="1"/>
<text x="1177.0" y="636.4" font-size="14" fill="#272727" text-anchor="start">-900</text>
<line x1="1167.3" y1="683.7" x2="1169.8" y2="683.7" stroke="#2a2a2a" stroke-width="1"/>
<text x="1177.0" y="688.8" font-size="14" fill="#272727" text-anchor="start">-1100</text>
<line x1="1167.3" y1="736.0" x2="1169.8" y2="736.0" stroke="#2a2a2a" stroke-width="1"/>
<text x="1177.0" y="741.1" font-size="14" fill="#272727" text-anchor="start">-1300</text>
<text x="1111.6" y="788.5" font-size="16" fill="#272727" text-anchor="start">surface (m)</text>
<g transform="matrix(1.0000 0.0000 0.0000 1.0000 982.60 800.00)"><g clip-path="url(#c15)">
<rect x="-1" y="-1" width="150.4" height="183.0" fill="#87d2eb"/>
<ellipse cx="14.8" cy="9.1" rx="37.1" ry="27.1" fill="#3fbce5" opacity="0.90" filter="url(#b8)"/>
<ellipse cx="17.8" cy="141.2" rx="35.6" ry="57.9" fill="#bee2ef" opacity="0.95" filter="url(#b10)"/>
<polygon points="89.0,-18.1 163.2,-18.1 163.2,199.1 26.7,199.1 44.5,155.7 66.8,119.5 77.2,81.5 80.1,45.2" fill="#d4e6ee" opacity="1.00" filter="url(#b6)"/>
<polygon points="97.9,-18.1 163.2,-18.1 163.2,199.1 44.5,199.1 59.4,159.3 77.2,126.7 86.1,86.9 89.0,45.2" fill="#909ba3" opacity="1.00" filter="url(#b5)"/>
<ellipse cx="130.6" cy="18.1" rx="23.7" ry="25.3" fill="#b6bcc4" opacity="0.90" filter="url(#b7)"/>
<ellipse cx="92.0" cy="54.3" rx="5.9" ry="21.7" fill="#707d86" opacity="0.80" filter="url(#b4)" transform="rotate(-10 92.0 54.3)"/>
<ellipse cx="89.0" cy="94.1" rx="5.9" ry="14.5" fill="#76838c" opacity="0.60" filter="url(#b4)" transform="rotate(20 89.0 94.1)"/>
<ellipse cx="118.7" cy="153.8" rx="37.1" ry="36.2" fill="#7f8b94" opacity="0.70" filter="url(#b8)"/>
<ellipse cx="49.0" cy="48.9" rx="20.8" ry="16.3" fill="#11ade1" opacity="1.00" filter="url(#b6)" transform="rotate(-15 49.0 48.9)"/>
<ellipse cx="38.6" cy="68.8" rx="10.4" ry="14.5" fill="#1bb0e2" opacity="0.80" filter="url(#b6)"/>
</g></g>
<polygon points="1018.0,834.5 1095.6,834.5 1095.6,945.5 1018.0,945.5" fill="none" stroke="#333" stroke-width="1.3" stroke-dasharray="1.3 4"/>
<g>
<rect x="993.8" y="971.4" width="36.0" height="3.2" fill="#fff"/>
<text x="1012.8" y="968.0" font-size="14.5" fill="#fff" text-anchor="middle" letter-spacing="0.8">5km</text>
</g>
<rect x="1147.5" y="800.0" width="22.3" height="181.0" fill="url(#gS)" stroke="#2a2a2a" stroke-width="1"/>
<line x1="1167.3" y1="832.0" x2="1169.8" y2="832.0" stroke="#2a2a2a" stroke-width="1"/>
<text x="1177.0" y="837.1" font-size="14" fill="#272727" text-anchor="start">740</text>
<line x1="1167.3" y1="904.8" x2="1169.8" y2="904.8" stroke="#2a2a2a" stroke-width="1"/>
<text x="1177.0" y="909.9" font-size="14" fill="#272727" text-anchor="start">700</text>
<line x1="1167.3" y1="977.7" x2="1169.8" y2="977.7" stroke="#2a2a2a" stroke-width="1"/>
<text x="1177.0" y="982.8" font-size="14" fill="#272727" text-anchor="start">660</text>
<rect x="1235.0" y="286.5" width="255.7" height="734.5" fill="none" stroke="#333" stroke-width="1.7" rx="1.5"/>
<text x="1247.5" y="318.0" font-size="23.1" fill="#111" text-anchor="start">iSTARit</text>
<text x="1363.0" y="327.8" font-size="16" fill="#272727" text-anchor="start">velocity (m/yr)</text>
<g transform="matrix(1.0000 -0.0076 0.0162 0.9999 1246.90 338.60)"><g clip-path="url(#c16)">
<rect x="-1" y="-1" width="147.6" height="180.6" fill="#402bb7"/>
<ellipse cx="0.0" cy="0.0" rx="43.7" ry="14.3" fill="#4851f4" opacity="0.90" filter="url(#b6)"/>
<ellipse cx="0.0" cy="0.0" rx="11.6" ry="8.9" fill="#2d8cf3" opacity="0.80" filter="url(#b4)"/>
<ellipse cx="72.8" cy="0.0" rx="87.4" ry="17.9" fill="#4536d3" opacity="0.80" filter="url(#b8)"/>
<ellipse cx="72.8" cy="178.6" rx="87.4" ry="21.4" fill="#4433cc" opacity="0.70" filter="url(#b8)"/>
</g></g>
<polygon points="1282.0,372.7 1359.4,372.7 1359.4,481.3 1282.0,481.3" fill="none" stroke="#26204e" stroke-width="1.3" stroke-dasharray="1.3 4"/>
<g>
<rect x="1259.8" y="508.9" width="35.7" height="3.2" fill="#fff"/>
<text x="1278.7" y="505.5" font-size="14.5" fill="#fff" text-anchor="middle" letter-spacing="0.8">5km</text>
</g>
<rect x="1411.5" y="338.6" width="22.3" height="177.9" fill="url(#gP)" stroke="#2a2a2a" stroke-width="1"/>
<line x1="1431.3" y1="337.4" x2="1433.8" y2="337.4" stroke="#2a2a2a" stroke-width="1"/>
<text x="1441.0" y="342.5" font-size="14" fill="#272727" text-anchor="start">400</text>
<line x1="1431.3" y1="383.5" x2="1433.8" y2="383.5" stroke="#2a2a2a" stroke-width="1"/>
<text x="1441.0" y="388.6" font-size="14" fill="#272727" text-anchor="start">300</text>
<line x1="1431.3" y1="428.5" x2="1433.8" y2="428.5" stroke="#2a2a2a" stroke-width="1"/>
<text x="1441.0" y="433.6" font-size="14" fill="#272727" text-anchor="start">200</text>
<line x1="1431.3" y1="473.4" x2="1433.8" y2="473.4" stroke="#2a2a2a" stroke-width="1"/>
<text x="1441.0" y="478.5" font-size="14" fill="#272727" text-anchor="start">100</text>
<text x="1391.4" y="557.6" font-size="16" fill="#272727" text-anchor="start">bed (m)</text>
<g transform="matrix(1.0000 -0.0069 0.0135 0.9999 1247.40 569.80)"><g clip-path="url(#c17)">
<rect x="-1" y="-1" width="147.0" height="180.4" fill="url(#itb)"/>
<ellipse cx="79.8" cy="44.6" rx="40.6" ry="16.1" fill="#0f766c" opacity="0.95" filter="url(#b7)" transform="rotate(5 79.8 44.6)"/>
<ellipse cx="123.3" cy="53.5" rx="29.0" ry="14.3" fill="#249488" opacity="0.80" filter="url(#b7)"/>
<ellipse cx="14.5" cy="14.3" rx="29.0" ry="17.8" fill="#84d4c6" opacity="0.80" filter="url(#b8)"/>
<ellipse cx="124.7" cy="21.4" rx="8.7" ry="8.9" fill="#a0ded1" opacity="0.90" filter="url(#b4)"/>
<ellipse cx="14.5" cy="124.9" rx="34.8" ry="64.2" fill="#e0ba79" opacity="1.00" filter="url(#b8)"/>
<ellipse cx="5.8" cy="142.7" rx="10.2" ry="25.0" fill="#bf8643" opacity="0.95" filter="url(#b6)"/>
<ellipse cx="43.5" cy="74.9" rx="14.5" ry="14.3" fill="#e2be7d" opacity="0.95" filter="url(#b5)"/>
<ellipse cx="62.4" cy="74.9" rx="8.7" ry="8.9" fill="#bf8643" opacity="0.95" filter="url(#b3)"/>
<ellipse cx="94.3" cy="92.8" rx="21.8" ry="30.3" fill="#84d4c6" opacity="0.95" filter="url(#b6)"/>
<ellipse cx="89.9" cy="74.9" rx="11.6" ry="14.3" fill="#3da99d" opacity="0.70" filter="url(#b5)"/>
<ellipse cx="72.5" cy="121.3" rx="20.3" ry="8.9" fill="#a0ded1" opacity="0.80" filter="url(#b4)"/>
<ellipse cx="60.9" cy="114.2" rx="8.7" ry="3.6" fill="#eacc91" opacity="0.80" filter="url(#b3)"/>
<ellipse cx="133.4" cy="107.0" rx="14.5" ry="25.0" fill="#f6ecc7" opacity="0.90" filter="url(#b7)"/>
<ellipse cx="58.0" cy="133.8" rx="11.6" ry="7.1" fill="#e2be7d" opacity="0.70" filter="url(#b4)"/>
<ellipse cx="94.3" cy="169.5" rx="58.0" ry="21.4" fill="#f6eac2" opacity="0.90" filter="url(#b8)"/>
</g></g>
<polygon points="1282.3,604.2 1359.0,604.2 1359.0,712.8 1282.3,712.8" fill="none" stroke="#333" stroke-width="1.3" stroke-dasharray="1.3 4"/>
<g>
<rect x="1259.8" y="739.9" width="35.7" height="3.2" fill="#fff"/>
<text x="1278.7" y="736.5" font-size="14.5" fill="#fff" text-anchor="middle" letter-spacing="0.8">5km</text>
</g>
<rect x="1412.2" y="569.8" width="21.8" height="177.4" fill="url(#gB)" stroke="#2a2a2a" stroke-width="1"/>
<line x1="1431.5" y1="590.0" x2="1434.0" y2="590.0" stroke="#2a2a2a" stroke-width="1"/>
<text x="1441.3" y="595.1" font-size="14" fill="#272727" text-anchor="start">-300</text>
<line x1="1431.5" y1="641.5" x2="1434.0" y2="641.5" stroke="#2a2a2a" stroke-width="1"/>
<text x="1441.3" y="646.6" font-size="14" fill="#272727" text-anchor="start">-500</text>
<line x1="1431.5" y1="693.4" x2="1434.0" y2="693.4" stroke="#2a2a2a" stroke-width="1"/>
<text x="1441.3" y="698.5" font-size="14" fill="#272727" text-anchor="start">-700</text>
<line x1="1431.5" y1="744.3" x2="1434.0" y2="744.3" stroke="#2a2a2a" stroke-width="1"/>
<text x="1441.3" y="749.4" font-size="14" fill="#272727" text-anchor="start">-900</text>
<text x="1375.9" y="790.4" font-size="16" fill="#272727" text-anchor="start">surface (m)</text>
<g transform="matrix(0.9999 -0.0103 0.0135 0.9999 1247.40 803.00)"><g clip-path="url(#c18)">
<rect x="-1" y="-1" width="147.0" height="180.0" fill="#47545a"/>
<polygon points="-29.0,-35.6 21.8,-17.8 43.5,35.6 79.8,71.2 116.0,115.7 137.8,169.1 152.3,213.6 -29.0,213.6" fill="#6a7780" opacity="1.00" filter="url(#b6)"/>
<polygon points="-29.0,-35.6 7.3,-17.8 29.0,44.5 65.3,83.7 104.4,124.6 130.5,213.6 -29.0,213.6" fill="#99a2ab" opacity="1.00" filter="url(#b6)"/>
<polygon points="-29.0,21.4 5.8,32.0 24.7,74.8 58.0,106.8 94.3,142.4 116.0,213.6 -29.0,213.6" fill="#d7dee4" opacity="1.00" filter="url(#b5)"/>
<polygon points="-29.0,53.4 5.8,60.5 24.7,92.6 58.0,124.6 89.9,156.7 104.4,213.6 -29.0,213.6" fill="#b7e1f0" opacity="1.00" filter="url(#b5)"/>
<polygon points="-29.0,74.8 5.8,81.9 24.7,110.4 58.0,138.9 84.1,165.6 92.8,213.6 -29.0,213.6" fill="#57c2e7" opacity="1.00" filter="url(#b5)"/>
<polygon points="-29.0,97.9 5.8,106.8 21.8,131.7 50.8,156.7 72.5,178.0 75.4,213.6 -29.0,213.6" fill="#18afe1" opacity="1.00" filter="url(#b5)"/>
<ellipse cx="89.9" cy="110.4" rx="5.1" ry="17.8" fill="#6a7780" opacity="0.60" filter="url(#b4)" transform="rotate(-25 89.9 110.4)"/>
<ellipse cx="75.4" cy="113.9" rx="5.1" ry="12.5" fill="#ccd1d6" opacity="0.50" filter="url(#b4)" transform="rotate(-25 75.4 113.9)"/>
</g></g>
<polygon points="1282.3,836.4 1359.0,836.4 1359.0,945.0 1282.3,945.0" fill="none" stroke="#333" stroke-width="1.3" stroke-dasharray="1.3 4"/>
<g>
<rect x="1259.8" y="971.4" width="35.7" height="3.2" fill="#fff"/>
<text x="1278.7" y="968.0" font-size="14.5" fill="#fff" text-anchor="middle" letter-spacing="0.8">5km</text>
</g>
<rect x="1412.2" y="801.5" width="21.8" height="178.5" fill="url(#gS)" stroke="#2a2a2a" stroke-width="1"/>
<line x1="1431.5" y1="837.0" x2="1434.0" y2="837.0" stroke="#2a2a2a" stroke-width="1"/>
<text x="1441.3" y="842.1" font-size="14" fill="#272727" text-anchor="start">720</text>
<line x1="1431.5" y1="908.2" x2="1434.0" y2="908.2" stroke="#2a2a2a" stroke-width="1"/>
<text x="1441.3" y="913.3" font-size="14" fill="#272727" text-anchor="start">680</text>
<line x1="1431.5" y1="978.8" x2="1434.0" y2="978.8" stroke="#2a2a2a" stroke-width="1"/>
<text x="1441.3" y="983.9" font-size="14" fill="#272727" text-anchor="start">640</text>
<rect x="1500.0" y="286.5" width="266.0" height="734.5" fill="none" stroke="#333" stroke-width="1.7" rx="1.5"/>
<text x="1513.0" y="318.0" font-size="23.1" fill="#111" text-anchor="start">iSTARt9</text>
<text x="1643.0" y="319.0" font-size="16" fill="#272727" text-anchor="start">velocity (m/yr)</text>
<g transform="matrix(0.9934 -0.1150 0.1060 0.9944 1508.70 346.50)"><g clip-path="url(#c19)">
<rect x="-1" y="-1" width="149.0" height="182.2" fill="#41ca8c"/>
<ellipse cx="147.0" cy="72.1" rx="44.1" ry="81.1" fill="#27c2ac" opacity="0.90" filter="url(#b10)"/>
<ellipse cx="88.2" cy="0.0" rx="73.5" ry="14.4" fill="#04bbc2" opacity="0.80" filter="url(#b6)"/>
<ellipse cx="-14.7" cy="68.5" rx="85.2" ry="111.7" fill="#58cc79" opacity="1.00" filter="url(#b6)"/>
<ellipse cx="-14.7" cy="68.5" rx="67.6" ry="93.7" fill="#84cc56" opacity="1.00" filter="url(#b6)"/>
<ellipse cx="-14.7" cy="68.5" rx="52.9" ry="75.7" fill="#b0c636" opacity="1.00" filter="url(#b6)"/>
<ellipse cx="-14.7" cy="68.5" rx="41.2" ry="59.5" fill="#d7be28" opacity="1.00" filter="url(#b6)"/>
<ellipse cx="-14.7" cy="68.5" rx="30.9" ry="45.1" fill="#f5ba3a" opacity="1.00" filter="url(#b6)"/>
<ellipse cx="-14.7" cy="68.5" rx="23.5" ry="30.6" fill="#fec437" opacity="1.00" filter="url(#b6)"/>
<ellipse cx="0.0" cy="0.0" rx="20.6" ry="12.6" fill="#01b8ca" opacity="0.90" filter="url(#b6)"/>
<ellipse cx="88.2" cy="191.0" rx="102.9" ry="43.3" fill="#15afd9" opacity="0.90" filter="url(#b7)"/>
<ellipse cx="95.5" cy="191.0" rx="88.2" ry="32.4" fill="#2d8cf3" opacity="0.95" filter="url(#b6)"/>
<ellipse cx="99.9" cy="189.2" rx="66.1" ry="21.6" fill="#475cfa" opacity="0.95" filter="url(#b5)"/>
<ellipse cx="99.9" cy="185.6" rx="36.7" ry="10.8" fill="#4536d3" opacity="0.95" filter="url(#b4)"/>
<ellipse cx="0.0" cy="180.2" rx="20.6" ry="21.6" fill="#21c1b0" opacity="0.90" filter="url(#b6)"/>
</g></g>
<path d="M1517.2 349.0L1505.9 352.2M1502.0 353.3L1505.5 350.9L1506.2 353.4ZM1537.3 346.1L1526.6 349.0M1522.7 350.0L1526.3 347.7L1526.9 350.2ZM1555.1 346.2L1545.0 348.7M1541.1 349.7L1544.6 347.5L1545.3 350.0ZM1570.6 345.4L1561.0 347.7M1557.1 348.6L1560.7 346.5L1561.3 349.0ZM1588.7 342.8L1579.7 344.8M1575.7 345.7L1579.4 343.6L1579.9 346.1ZM1606.9 338.2L1598.4 340.0M1594.5 340.8L1598.2 338.7L1598.7 341.3ZM1627.8 341.1L1620.0 342.6M1616.0 343.4L1619.7 341.4L1620.2 343.9ZM1643.8 334.9L1636.5 336.2M1632.6 336.9L1636.3 334.9L1636.8 337.5ZM1529.9 365.4L1519.0 368.4M1515.1 369.4L1518.6 367.1L1519.3 369.6ZM1547.5 359.4L1537.1 362.1M1533.2 363.0L1536.8 360.8L1537.4 363.3ZM1567.8 354.5L1558.0 356.8M1554.1 357.8L1557.7 355.6L1558.3 358.1ZM1585.5 354.2L1576.3 356.3M1572.4 357.1L1576.1 355.0L1576.6 357.5ZM1599.5 351.4L1590.7 353.2M1586.8 354.0L1590.5 351.9L1591.0 354.5ZM1619.2 354.1L1611.1 355.7M1607.2 356.5L1610.8 354.4L1611.3 357.0ZM1636.6 350.4L1629.0 351.8M1625.1 352.5L1628.8 350.5L1629.2 353.1ZM1657.3 346.5L1650.4 347.6M1646.5 348.3L1650.2 346.3L1650.6 348.9ZM1521.0 372.1L1509.7 375.3M1505.8 376.3L1509.4 374.0L1510.1 376.5ZM1536.5 371.4L1525.7 374.2M1521.8 375.3L1525.3 373.0L1526.0 375.5ZM1558.5 370.4L1548.4 372.9M1544.5 373.8L1548.1 371.6L1548.7 374.2ZM1574.7 369.7L1565.1 371.9M1561.2 372.8L1564.8 370.6L1565.4 373.2ZM1593.6 365.5L1584.6 367.4M1580.7 368.2L1584.3 366.1L1584.9 368.6ZM1614.1 366.0L1605.8 367.6M1601.8 368.3L1605.5 366.3L1606.0 368.8ZM1629.1 363.3L1621.2 364.7M1617.3 365.4L1621.0 363.5L1621.4 366.0ZM1649.2 363.2L1642.0 364.3M1638.0 365.0L1641.8 363.1L1642.2 365.6ZM1532.6 384.5L1521.6 387.4M1517.8 388.5L1521.3 386.2L1522.0 388.7ZM1552.2 381.0L1541.8 383.6M1537.9 384.6L1541.5 382.3L1542.1 384.8ZM1567.6 383.9L1557.7 386.2M1553.8 387.1L1557.5 384.9L1558.0 387.4ZM1584.1 380.0L1574.8 382.0M1570.9 382.9L1574.5 380.8L1575.0 383.3ZM1601.8 379.3L1593.0 381.0M1589.1 381.8L1592.8 379.7L1593.3 382.3ZM1624.3 376.0L1616.2 377.4M1612.2 378.1L1616.0 376.1L1616.4 378.7ZM1643.0 371.9L1635.5 373.1M1631.6 373.8L1635.3 371.8L1635.7 374.4ZM1660.4 372.0L1653.5 372.9M1649.5 373.5L1653.3 371.6L1653.7 374.2ZM1524.0 398.8L1512.7 401.9M1508.9 403.0L1512.4 400.7L1513.1 403.2ZM1544.1 400.0L1533.5 402.8M1529.6 403.7L1533.2 401.5L1533.8 404.0ZM1560.0 396.2L1549.9 398.6M1546.0 399.5L1549.6 397.3L1550.2 399.9ZM1575.9 394.6L1566.2 396.7M1562.3 397.6L1565.9 395.5L1566.5 398.0ZM1597.8 394.2L1588.8 396.0M1584.9 396.7L1588.6 394.7L1589.1 397.2ZM1616.5 386.9L1608.2 388.4M1604.2 389.1L1607.9 387.1L1608.4 389.7ZM1632.5 387.8L1624.7 389.1M1620.7 389.7L1624.5 387.8L1624.9 390.4ZM1648.5 384.5L1641.2 385.5M1637.2 386.1L1641.0 384.2L1641.3 386.8ZM1531.7 407.6L1520.7 410.5M1516.8 411.6L1520.3 409.3L1521.0 411.8ZM1549.8 410.2L1539.3 412.8M1535.4 413.8L1539.0 411.5L1539.6 414.1ZM1568.1 404.3L1558.2 406.6M1554.3 407.5L1557.9 405.3L1558.4 407.8ZM1588.4 406.5L1579.0 408.4M1575.1 409.2L1578.8 407.1L1579.3 409.7ZM1604.5 401.6L1595.7 403.2M1591.7 403.9L1595.4 401.9L1595.9 404.5ZM1625.8 402.2L1617.7 403.6M1613.7 404.2L1617.4 402.3L1617.9 404.8ZM1645.6 399.8L1638.1 400.9M1634.1 401.4L1637.9 399.6L1638.3 402.1ZM1660.3 394.8L1653.4 395.7M1649.4 396.2L1653.2 394.4L1653.5 397.0ZM1525.6 425.9L1514.3 429.1M1510.4 430.1L1513.9 427.8L1514.6 430.3ZM1546.8 418.2L1536.1 420.8M1532.2 421.8L1535.8 419.6L1536.4 422.1ZM1560.5 417.2L1550.3 419.6M1546.4 420.5L1550.0 418.3L1550.6 420.8ZM1579.3 416.8L1569.6 418.9M1565.7 419.7L1569.4 417.6L1569.9 420.1ZM1599.4 412.9L1590.4 414.6M1586.5 415.3L1590.2 413.3L1590.7 415.9ZM1614.4 412.3L1605.9 413.7M1601.9 414.4L1605.6 412.5L1606.1 415.0ZM1634.9 411.0L1627.0 412.1M1623.1 412.7L1626.8 410.9L1627.2 413.4ZM1656.6 409.4L1649.5 410.2M1645.5 410.7L1649.3 408.9L1649.6 411.5ZM1536.7 434.8L1525.7 437.7M1521.8 438.7L1525.4 436.5L1526.0 439.0ZM1555.4 428.6L1545.0 431.1M1541.1 432.0L1544.7 429.8L1545.3 432.3ZM1575.5 431.5L1565.7 433.6M1561.8 434.4L1565.5 432.3L1566.0 434.9ZM1593.7 429.5L1584.4 431.3M1580.5 432.0L1584.2 430.0L1584.7 432.6ZM1608.8 424.9L1600.0 426.4M1596.1 427.1L1599.8 425.1L1600.2 427.7ZM1625.5 424.7L1617.3 425.9M1613.3 426.5L1617.1 424.6L1617.5 427.2ZM1643.1 418.5L1635.5 419.5M1631.5 420.0L1635.3 418.2L1635.6 420.8ZM1662.3 417.0L1655.3 417.7M1651.3 418.2L1655.1 416.4L1655.4 419.0ZM1527.4 443.9L1516.1 447.0M1512.2 448.1L1515.7 445.8L1516.4 448.3ZM1543.7 442.7L1532.9 445.5M1529.0 446.4L1532.6 444.2L1533.2 446.7ZM1562.7 442.1L1552.5 444.4M1548.6 445.3L1552.2 443.1L1552.8 445.7ZM1580.9 443.7L1571.2 445.6M1567.3 446.4L1570.9 444.4L1571.5 446.9ZM1602.0 435.9L1593.0 437.5M1589.1 438.3L1592.8 436.3L1593.3 438.8ZM1618.3 435.5L1609.8 436.8M1605.9 437.5L1609.6 435.5L1610.0 438.1ZM1637.1 431.7L1629.2 432.8M1625.2 433.3L1629.0 431.5L1629.3 434.0ZM1658.8 435.5L1651.6 436.2M1647.6 436.6L1651.5 434.9L1651.7 437.5ZM1538.8 457.8L1527.8 460.7M1524.0 461.7L1527.5 459.4L1528.2 461.9ZM1554.6 453.2L1544.0 455.7M1540.1 456.6L1543.7 454.5L1544.3 457.0ZM1574.4 452.1L1564.5 454.2M1560.6 455.0L1564.2 452.9L1564.8 455.5ZM1595.5 448.9L1586.2 450.6M1582.2 451.3L1585.9 449.3L1586.4 451.9ZM1609.6 453.0L1600.8 454.4M1596.8 455.1L1600.5 453.1L1601.0 455.7ZM1630.2 444.8L1622.0 445.9M1618.1 446.4L1621.8 444.6L1622.2 447.2ZM1648.4 441.8L1640.9 442.6M1636.9 443.1L1640.7 441.3L1641.0 443.9ZM1667.3 446.5L1660.4 447.1M1656.4 447.4L1660.2 445.8L1660.5 448.4ZM1533.5 472.0L1522.3 475.1M1518.5 476.1L1522.0 473.8L1522.7 476.3ZM1547.9 468.0L1537.2 470.7M1533.3 471.6L1536.9 469.4L1537.5 471.9ZM1566.0 468.8L1555.8 471.1M1551.9 471.9L1555.5 469.8L1556.1 472.4ZM1586.3 466.5L1576.8 468.4M1572.9 469.1L1576.6 467.1L1577.1 469.6ZM1603.0 460.6L1593.9 462.1M1590.0 462.8L1593.7 460.8L1594.1 463.4ZM1624.6 463.6L1616.4 464.7M1612.4 465.3L1616.2 463.4L1616.6 466.0ZM1643.0 460.2L1635.3 461.0M1631.3 461.5L1635.1 459.7L1635.4 462.3ZM1661.0 457.6L1653.9 458.2M1649.9 458.6L1653.7 456.9L1654.0 459.5ZM1540.0 482.1L1529.6 484.8M1525.7 485.8L1529.3 483.5L1529.9 486.1ZM1558.6 476.4L1548.6 478.7M1544.7 479.6L1548.3 477.4L1548.9 480.0ZM1575.2 476.3L1565.7 478.2M1561.8 479.1L1565.5 477.0L1566.0 479.5ZM1595.1 477.0L1586.4 478.5M1582.5 479.2L1586.2 477.2L1586.6 479.8ZM1617.2 472.6L1609.2 473.8M1605.2 474.4L1609.0 472.5L1609.3 475.1ZM1635.8 474.4L1628.5 475.2M1624.5 475.7L1628.4 474.0L1628.7 476.5ZM1653.6 467.8L1646.8 468.4M1642.8 468.8L1646.6 467.2L1646.9 469.7ZM1667.5 465.2L1661.0 465.7M1657.0 466.0L1660.9 464.4L1661.1 467.0ZM1531.7 492.9L1521.6 495.7M1517.7 496.7L1521.2 494.4L1521.9 496.9ZM1553.0 495.5L1543.7 497.7M1539.9 498.6L1543.4 496.4L1544.0 498.9ZM1572.2 490.2L1563.4 492.0M1559.4 492.9L1563.1 490.8L1563.6 493.3ZM1589.6 490.5L1581.4 492.0M1577.5 492.7L1581.2 490.7L1581.7 493.3ZM1604.4 487.8L1596.7 489.0M1592.7 489.6L1596.5 487.7L1596.9 490.3ZM1627.6 486.0L1620.6 486.8M1616.6 487.3L1620.5 485.5L1620.8 488.1ZM1644.7 481.8L1638.2 482.4M1634.2 482.8L1638.0 481.1L1638.3 483.7ZM1659.8 482.3L1653.9 482.7M1649.9 483.0L1653.8 481.4L1654.0 484.0ZM1543.4 507.9L1534.4 510.3M1530.5 511.2L1534.1 509.0L1534.7 511.5ZM1565.1 502.5L1556.6 504.4M1552.7 505.2L1556.3 503.1L1556.9 505.6ZM1580.4 504.7L1572.6 506.2M1568.7 507.0L1572.3 505.0L1572.8 507.5ZM1600.0 496.8L1592.5 498.0M1588.5 498.7L1592.3 496.8L1592.7 499.3ZM1614.7 495.0L1607.7 496.0M1603.7 496.5L1607.5 494.7L1607.9 497.2ZM1638.0 497.0L1632.0 497.6M1628.0 498.0L1631.8 496.3L1632.1 498.9ZM1651.8 495.6L1646.1 496.0M1642.3 496.3L1646.0 494.7L1646.2 497.3ZM1674.8 491.7L1669.5 491.9M1666.0 492.1L1669.5 490.6L1669.6 493.2ZM1535.5 519.1L1526.7 521.5M1522.9 522.5L1526.4 520.2L1527.1 522.7ZM1552.0 513.3L1543.6 515.4M1539.7 516.3L1543.3 514.1L1543.9 516.6ZM1575.7 515.2L1568.2 516.7M1564.3 517.5L1567.9 515.4L1568.4 518.0ZM1591.5 515.4L1584.7 516.6M1580.7 517.3L1584.4 515.3L1584.9 517.9ZM1609.2 512.9L1602.9 513.8M1598.9 514.4L1602.7 512.6L1603.1 515.1ZM1629.2 505.8L1623.3 506.5M1619.3 506.9L1623.1 505.2L1623.4 507.8ZM1644.2 504.7L1638.6 505.2M1634.8 505.5L1638.4 503.9L1638.7 506.5ZM1662.6 504.7L1657.4 505.0M1653.9 505.2L1657.3 503.7L1657.5 506.3Z" stroke="#7a5c60" fill="#7a5c60" stroke-width="1.0" opacity="0.7" stroke-linejoin="round"/>
<polygon points="1547.6,376.4 1623.1,367.4 1635.7,477.8 1560.0,485.8" fill="none" stroke="#26405e" stroke-width="1.3" stroke-dasharray="1.3 4"/>
<g>
<rect x="1535.0" y="514.4" width="35.0" height="3.2" fill="#fff"/>
<text x="1553.5" y="510.5" font-size="14.5" fill="#fff" text-anchor="middle" letter-spacing="0.8">5km</text>
</g>
<rect x="1690.7" y="330.4" width="24.1" height="194.9" fill="url(#gP)" stroke="#2a2a2a" stroke-width="1"/>
<line x1="1712.3" y1="364.5" x2="1714.8" y2="364.5" stroke="#2a2a2a" stroke-width="1"/>
<text x="1722.0" y="369.6" font-size="14" fill="#272727" text-anchor="start">400</text>
<line x1="1712.3" y1="414.2" x2="1714.8" y2="414.2" stroke="#2a2a2a" stroke-width="1"/>
<text x="1722.0" y="419.3" font-size="14" fill="#272727" text-anchor="start">300</text>
<line x1="1712.3" y1="463.5" x2="1714.8" y2="463.5" stroke="#2a2a2a" stroke-width="1"/>
<text x="1722.0" y="468.6" font-size="14" fill="#272727" text-anchor="start">200</text>
<line x1="1712.3" y1="512.7" x2="1714.8" y2="512.7" stroke="#2a2a2a" stroke-width="1"/>
<text x="1722.0" y="517.8" font-size="14" fill="#272727" text-anchor="start">100</text>
<text x="1671.0" y="550.4" font-size="16" fill="#272727" text-anchor="start">bed (m)</text>
<g transform="matrix(0.9933 -0.1153 0.1129 0.9936 1508.40 577.50)"><g clip-path="url(#c20)">
<rect x="-1" y="-1" width="149.5" height="182.7" fill="#d1eddf"/>
<ellipse cx="73.7" cy="14.5" rx="59.0" ry="18.1" fill="#92d9cc" opacity="0.90" filter="url(#b7)"/>
<ellipse cx="140.1" cy="90.3" rx="14.7" ry="63.2" fill="#a0ded1" opacity="0.80" filter="url(#b7)"/>
<polygon points="26.5,25.3 73.7,18.1 125.4,28.9 132.7,90.3 125.4,140.9 88.5,144.5 61.9,126.5 32.4,99.4" fill="#59bbae" opacity="1.00" filter="url(#b7)"/>
<polygon points="36.9,45.2 73.7,50.6 118.0,81.3 120.9,112.0 88.5,108.4 44.2,75.9" fill="#219185" opacity="0.80" filter="url(#b5)"/>
<ellipse cx="66.4" cy="45.2" rx="29.5" ry="5.4" fill="#158478" opacity="0.70" filter="url(#b3)" transform="rotate(5 66.4 45.2)"/>
<ellipse cx="88.5" cy="119.2" rx="26.5" ry="5.4" fill="#18897d" opacity="0.70" filter="url(#b3)" transform="rotate(5 88.5 119.2)"/>
<ellipse cx="0.0" cy="54.2" rx="10.3" ry="45.2" fill="#f5e1af" opacity="0.90" filter="url(#b6)"/>
<ellipse cx="4.4" cy="5.4" rx="14.7" ry="10.8" fill="#f6eecb" opacity="0.80" filter="url(#b5)"/>
<ellipse cx="106.2" cy="43.4" rx="8.8" ry="6.3" fill="#d1a25e" opacity="0.95" filter="url(#b3)" transform="rotate(10 106.2 43.4)"/>
<ellipse cx="115.0" cy="56.0" rx="8.1" ry="6.3" fill="#cd9b56" opacity="0.95" filter="url(#b3)" transform="rotate(10 115.0 56.0)"/>
<ellipse cx="84.1" cy="39.7" rx="5.9" ry="3.6" fill="#d7eddd" opacity="0.90" filter="url(#b3)"/>
<ellipse cx="53.1" cy="90.3" rx="5.9" ry="4.5" fill="#f0efd3" opacity="0.95" filter="url(#b3)"/>
<ellipse cx="64.9" cy="112.0" rx="5.2" ry="3.3" fill="#eacc91" opacity="0.95" filter="url(#b2)"/>
<ellipse cx="91.4" cy="130.1" rx="8.1" ry="4.0" fill="#ba7f3d" opacity="0.95" filter="url(#b2)" transform="rotate(5 91.4 130.1)"/>
<ellipse cx="17.7" cy="159.0" rx="35.4" ry="27.1" fill="#e6c587" opacity="1.00" filter="url(#b7)"/>
<ellipse cx="7.4" cy="122.8" rx="14.7" ry="25.3" fill="#f1daa5" opacity="0.90" filter="url(#b6)"/>
<ellipse cx="44.2" cy="144.5" rx="8.8" ry="8.1" fill="#bf8643" opacity="0.95" filter="url(#b4)"/>
<ellipse cx="103.2" cy="173.4" rx="44.2" ry="16.3" fill="#f6eecb" opacity="0.80" filter="url(#b7)"/>
</g></g>
<polygon points="1547.2,607.6 1623.3,599.3 1635.5,708.4 1559.3,716.7" fill="none" stroke="#333" stroke-width="1.3" stroke-dasharray="1.3 4"/>
<g>
<rect x="1536.0" y="744.9" width="35.0" height="3.2" fill="#fff"/>
<text x="1554.5" y="741.0" font-size="14.5" fill="#fff" text-anchor="middle" letter-spacing="0.8">5km</text>
</g>
<rect x="1690.7" y="560.5" width="24.3" height="195.9" fill="url(#gB)" stroke="#2a2a2a" stroke-width="1"/>
<line x1="1712.5" y1="572.2" x2="1715.0" y2="572.2" stroke="#2a2a2a" stroke-width="1"/>
<text x="1722.7" y="577.3" font-size="14" fill="#272727" text-anchor="start">-500</text>
<line x1="1712.5" y1="628.4" x2="1715.0" y2="628.4" stroke="#2a2a2a" stroke-width="1"/>
<text x="1722.7" y="633.5" font-size="14" fill="#272727" text-anchor="start">-700</text>
<line x1="1712.5" y1="684.2" x2="1715.0" y2="684.2" stroke="#2a2a2a" stroke-width="1"/>
<text x="1722.7" y="689.3" font-size="14" fill="#272727" text-anchor="start">-900</text>
<line x1="1712.5" y1="741.4" x2="1715.0" y2="741.4" stroke="#2a2a2a" stroke-width="1"/>
<text x="1722.7" y="746.5" font-size="14" fill="#272727" text-anchor="start">-1100</text>
<text x="1656.3" y="782.0" font-size="16" fill="#272727" text-anchor="start">surface (m)</text>
<g transform="matrix(0.9937 -0.1119 0.1130 0.9936 1508.40 809.80)"><g clip-path="url(#c21)">
<rect x="-1" y="-1" width="149.4" height="182.6" fill="#16aee1"/>
<ellipse cx="51.6" cy="14.4" rx="20.6" ry="18.1" fill="#72cbe9" opacity="0.80" filter="url(#b7)"/>
<polygon points="53.1,-18.1 162.2,-18.1 162.2,198.6 67.8,198.6 61.9,153.5 53.1,126.4 61.9,99.3 91.4,90.3 97.3,54.2 76.7,32.5 61.9,14.4" fill="#87d2eb" opacity="1.00" filter="url(#b6)"/>
<polygon points="73.7,-18.1 162.2,-18.1 162.2,198.6 76.7,198.6 73.7,162.5 82.6,135.4 100.2,108.3 106.1,72.2 100.2,45.1 85.5,18.1" fill="#d4e6ee" opacity="1.00" filter="url(#b5)"/>
<polygon points="91.4,-18.1 162.2,-18.1 162.2,198.6 91.4,198.6 94.4,162.5 110.6,126.4 117.9,90.3 112.0,54.2 103.2,21.7" fill="#c1c6cd" opacity="1.00" filter="url(#b5)"/>
<polygon points="106.1,-18.1 162.2,-18.1 162.2,198.6 140.1,198.6 140.1,144.4 135.6,90.3 123.8,54.2 115.0,18.1" fill="#99a2ab" opacity="1.00" filter="url(#b5)"/>
<polygon points="117.9,-18.1 162.2,-18.1 162.2,81.3 140.1,54.2 126.8,18.1" fill="#536168" opacity="1.00" filter="url(#b5)"/>
<ellipse cx="153.3" cy="153.5" rx="14.7" ry="45.1" fill="#64727a" opacity="0.90" filter="url(#b6)"/>
<ellipse cx="85.5" cy="68.6" rx="11.8" ry="18.1" fill="#13aee1" opacity="0.95" filter="url(#b5)"/>
<ellipse cx="70.8" cy="54.2" rx="8.8" ry="14.4" fill="#1fb2e2" opacity="0.80" filter="url(#b5)"/>
<ellipse cx="66.3" cy="140.8" rx="11.8" ry="10.8" fill="#24b4e3" opacity="0.80" filter="url(#b5)"/>
<ellipse cx="85.5" cy="119.2" rx="3.7" ry="5.4" fill="#aab2ba" opacity="0.90" filter="url(#b2)"/>
</g></g>
<polygon points="1547.2,840.3 1623.3,832.0 1635.5,941.2 1559.3,949.4" fill="none" stroke="#333" stroke-width="1.3" stroke-dasharray="1.3 4"/>
<g>
<rect x="1536.0" y="977.4" width="35.0" height="3.2" fill="#fff"/>
<text x="1554.5" y="973.7" font-size="14.5" fill="#fff" text-anchor="middle" letter-spacing="0.8">5km</text>
</g>
<rect x="1690.7" y="793.3" width="24.3" height="194.9" fill="url(#gS)" stroke="#2a2a2a" stroke-width="1"/>
<line x1="1712.5" y1="841.8" x2="1715.0" y2="841.8" stroke="#2a2a2a" stroke-width="1"/>
<text x="1722.7" y="846.9" font-size="14" fill="#272727" text-anchor="start">580</text>
<line x1="1712.5" y1="920.3" x2="1715.0" y2="920.3" stroke="#2a2a2a" stroke-width="1"/>
<text x="1722.7" y="925.4" font-size="14" fill="#272727" text-anchor="start">540</text>
</svg>
</body></html>
